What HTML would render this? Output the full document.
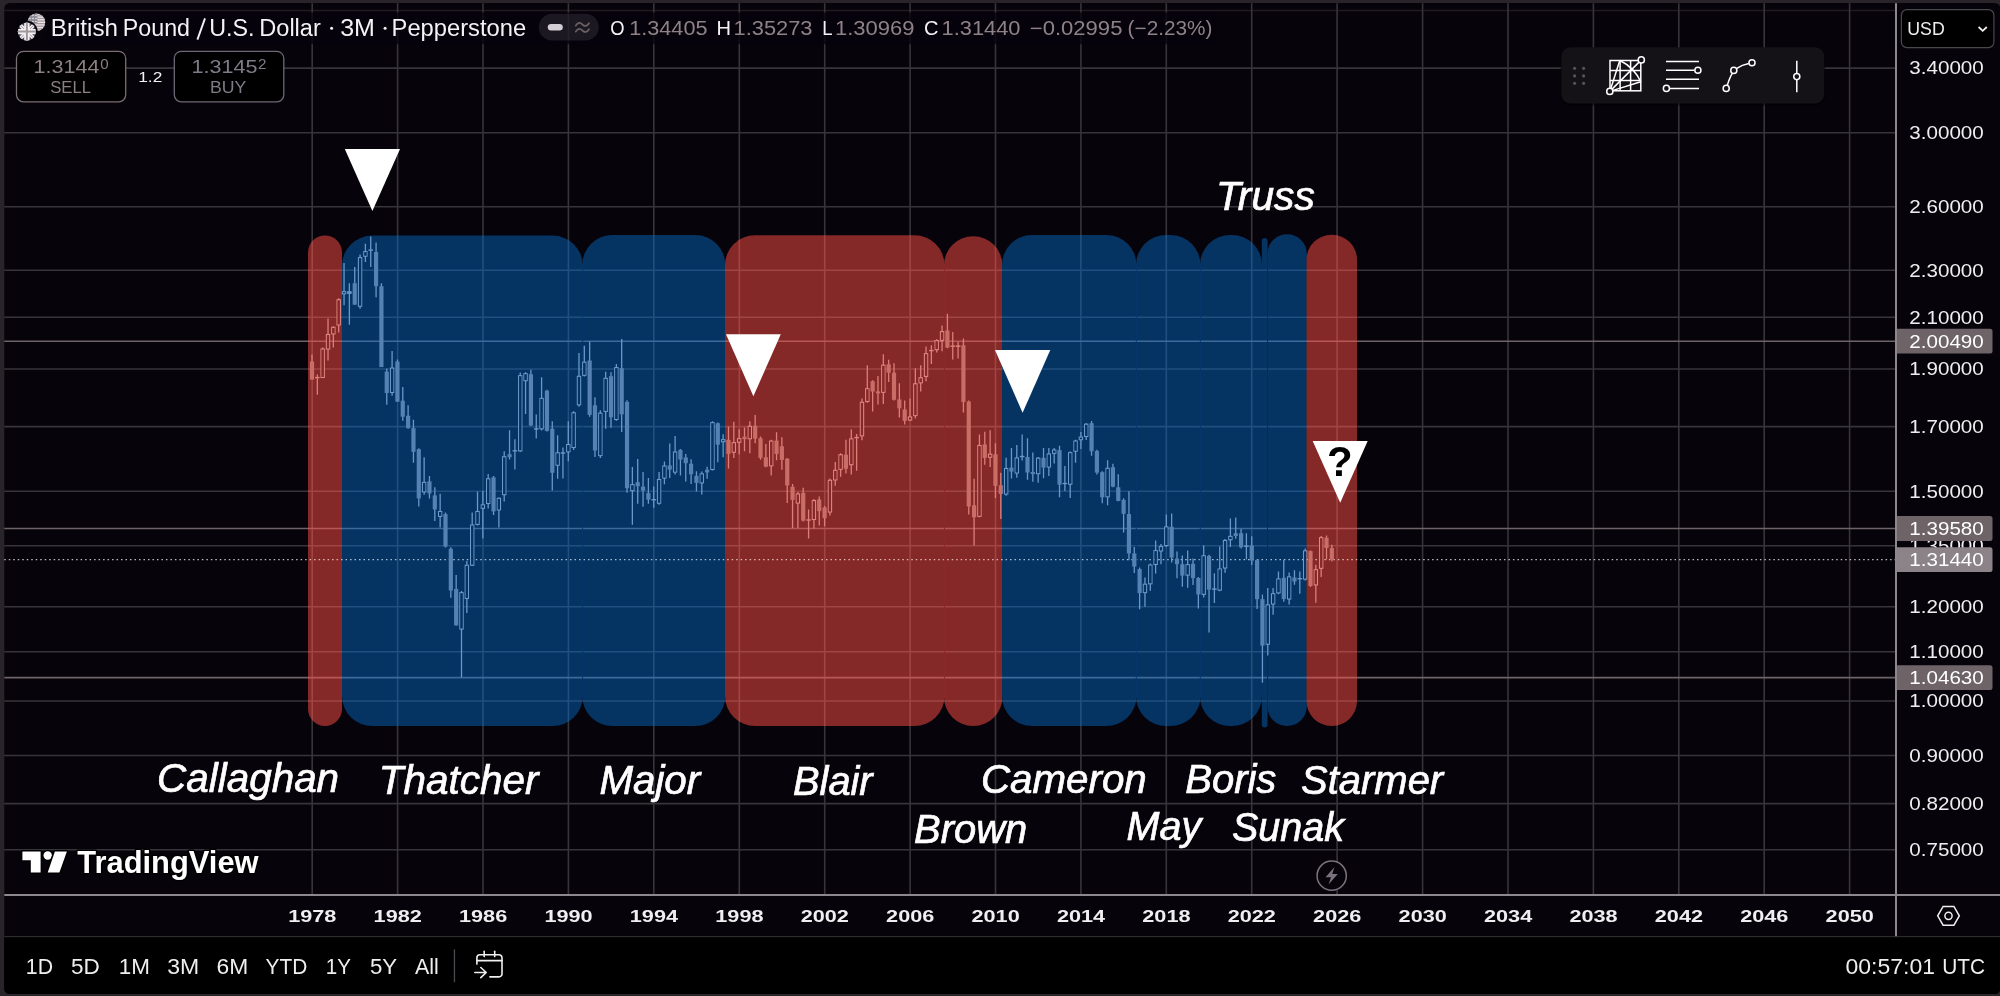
<!DOCTYPE html>
<html><head><meta charset="utf-8"><title>GBPUSD</title>
<style>html,body{margin:0;padding:0;background:#28242a;}body{width:2000px;height:996px;overflow:hidden;font-family:"Liberation Sans",sans-serif;}svg{display:block;will-change:transform;transform:translateZ(0)}</style>
</head><body>
<svg width="2000" height="996" viewBox="0 0 2000 996" font-family="Liberation Sans, sans-serif">
<defs>
<clipPath id="cr"><rect x="308" y="235.5" width="34.0" height="490.5" rx="17" ry="17" /><rect x="725" y="235.3" width="219.5" height="490.7" rx="30" ry="30" /><rect x="944" y="236.3" width="58.4" height="489.7" rx="29" ry="29" /><rect x="1306.5" y="234.8" width="50.5" height="491.2" rx="25" ry="25" /></clipPath>
<clipPath id="cb"><rect x="342" y="235.6" width="240.8" height="490.4" rx="30" ry="30" /><rect x="582.3" y="235" width="143.0" height="491.0" rx="30" ry="30" /><rect x="1002" y="235" width="134.5" height="491.0" rx="30" ry="30" /><rect x="1136" y="235" width="64.5" height="491.0" rx="30" ry="30" /><rect x="1200" y="235" width="62.0" height="491.0" rx="30" ry="30" /><rect x="1261.8" y="238" width="5.8" height="489.5" rx="2.9" ry="2.9" /><rect x="1267.4" y="234.3" width="39.4" height="491.7" rx="19.5" ry="19.5" /></clipPath>
<clipPath id="chart"><rect x="4.3" y="3" width="1890.7" height="891"/></clipPath>
</defs>
<rect width="2000" height="996" fill="#28242a"/>
<path d="M9.8 3H1994.8a5.5 5.5 0 0 1 5.5 5.5V988.5a5.5 5.5 0 0 1 -5.5 5.5H9.8a5.5 5.5 0 0 1 -5.5 -5.5V8.5a5.5 5.5 0 0 1 5.5 -5.5Z" fill="#07030b"/>
<path d="M4.3 937H2000.3V988.5a5.5 5.5 0 0 1 -5.5 5.5H9.8a5.5 5.5 0 0 1 -5.5 -5.5Z" fill="#000"/>
<rect x="4.3" y="936" width="1996" height="1.2" fill="#2e2b30"/>
<g stroke="#37343a" stroke-width="1.6" fill="none"><path d="M4.3 10.5H1895" stroke-opacity="0.5"/><path d="M4.3 68.1H1895"/><path d="M4.3 132.8H1895"/><path d="M4.3 206.8H1895"/><path d="M4.3 270.2H1895"/><path d="M4.3 317.3H1895"/><path d="M4.3 369.0H1895"/><path d="M4.3 426.6H1895"/><path d="M4.3 491.3H1895"/><path d="M4.3 545.8H1895"/><path d="M4.3 606.7H1895"/><path d="M4.3 651.7H1895"/><path d="M4.3 701.0H1895"/><path d="M4.3 755.5H1895"/><path d="M4.3 803.6H1895"/><path d="M4.3 849.8H1895"/><path d="M312.2 3.2V894"/><path d="M397.6 3.2V894"/><path d="M483.0 3.2V894"/><path d="M568.4 3.2V894"/><path d="M653.8 3.2V894"/><path d="M739.3 3.2V894"/><path d="M824.7 3.2V894"/><path d="M910.1 3.2V894"/><path d="M995.5 3.2V894"/><path d="M1080.9 3.2V894"/><path d="M1166.3 3.2V894"/><path d="M1251.7 3.2V894"/><path d="M1337.1 3.2V894"/><path d="M1422.6 3.2V894"/><path d="M1508.0 3.2V894"/><path d="M1593.4 3.2V894"/><path d="M1678.8 3.2V894"/><path d="M1764.2 3.2V894"/><path d="M1849.6 3.2V894"/></g>
<g stroke="#6e6468" stroke-width="1.6"><path d="M4.3 341.2H1895"/><path d="M4.3 528.5H1895"/><path d="M4.3 677.6H1895"/></g>
<path d="M4.3 559.6H1895" stroke="#c0bcc0" stroke-width="1.4" stroke-dasharray="1.5 2.99"/>
<rect x="308" y="235.5" width="34.0" height="490.5" rx="17" ry="17" fill="#852928"/>
<rect x="342" y="235.6" width="240.8" height="490.4" rx="30" ry="30" fill="#053362"/>
<rect x="582.3" y="235" width="143.0" height="491.0" rx="30" ry="30" fill="#053362"/>
<rect x="725" y="235.3" width="219.5" height="490.7" rx="30" ry="30" fill="#852928"/>
<rect x="944" y="236.3" width="58.4" height="489.7" rx="29" ry="29" fill="#852928"/>
<rect x="1002" y="235" width="134.5" height="491.0" rx="30" ry="30" fill="#053362"/>
<rect x="1136" y="235" width="64.5" height="491.0" rx="30" ry="30" fill="#053362"/>
<rect x="1200" y="235" width="62.0" height="491.0" rx="30" ry="30" fill="#053362"/>
<rect x="1261.8" y="238" width="5.8" height="489.5" rx="2.9" ry="2.9" fill="#053362"/>
<rect x="1267.4" y="234.3" width="39.4" height="491.7" rx="19.5" ry="19.5" fill="#053362"/>
<rect x="1306.5" y="234.8" width="50.5" height="491.2" rx="25" ry="25" fill="#852928"/>
<g clip-path="url(#cr)"><g stroke="#9f4543" stroke-width="1.6" fill="none"><path d="M4.3 10.5H1895" stroke-opacity="0.5"/><path d="M4.3 68.1H1895"/><path d="M4.3 132.8H1895"/><path d="M4.3 206.8H1895"/><path d="M4.3 270.2H1895"/><path d="M4.3 317.3H1895"/><path d="M4.3 369.0H1895"/><path d="M4.3 426.6H1895"/><path d="M4.3 491.3H1895"/><path d="M4.3 545.8H1895"/><path d="M4.3 606.7H1895"/><path d="M4.3 651.7H1895"/><path d="M4.3 701.0H1895"/><path d="M4.3 755.5H1895"/><path d="M4.3 803.6H1895"/><path d="M4.3 849.8H1895"/><path d="M312.2 3.2V894"/><path d="M397.6 3.2V894"/><path d="M483.0 3.2V894"/><path d="M568.4 3.2V894"/><path d="M653.8 3.2V894"/><path d="M739.3 3.2V894"/><path d="M824.7 3.2V894"/><path d="M910.1 3.2V894"/><path d="M995.5 3.2V894"/><path d="M1080.9 3.2V894"/><path d="M1166.3 3.2V894"/><path d="M1251.7 3.2V894"/><path d="M1337.1 3.2V894"/><path d="M1422.6 3.2V894"/><path d="M1508.0 3.2V894"/><path d="M1593.4 3.2V894"/><path d="M1678.8 3.2V894"/><path d="M1764.2 3.2V894"/><path d="M1849.6 3.2V894"/></g><g stroke="#b65855" stroke-width="1.6"><path d="M4.3 341.2H1895"/><path d="M4.3 528.5H1895"/><path d="M4.3 677.6H1895"/></g><path d="M4.3 559.6H1895" stroke="#e3b9b6" stroke-width="1.4" stroke-dasharray="1.5 2.99"/></g>
<g clip-path="url(#cb)"><g stroke="#20507f" stroke-width="1.6" fill="none"><path d="M4.3 10.5H1895" stroke-opacity="0.5"/><path d="M4.3 68.1H1895"/><path d="M4.3 132.8H1895"/><path d="M4.3 206.8H1895"/><path d="M4.3 270.2H1895"/><path d="M4.3 317.3H1895"/><path d="M4.3 369.0H1895"/><path d="M4.3 426.6H1895"/><path d="M4.3 491.3H1895"/><path d="M4.3 545.8H1895"/><path d="M4.3 606.7H1895"/><path d="M4.3 651.7H1895"/><path d="M4.3 701.0H1895"/><path d="M4.3 755.5H1895"/><path d="M4.3 803.6H1895"/><path d="M4.3 849.8H1895"/><path d="M312.2 3.2V894"/><path d="M397.6 3.2V894"/><path d="M483.0 3.2V894"/><path d="M568.4 3.2V894"/><path d="M653.8 3.2V894"/><path d="M739.3 3.2V894"/><path d="M824.7 3.2V894"/><path d="M910.1 3.2V894"/><path d="M995.5 3.2V894"/><path d="M1080.9 3.2V894"/><path d="M1166.3 3.2V894"/><path d="M1251.7 3.2V894"/><path d="M1337.1 3.2V894"/><path d="M1422.6 3.2V894"/><path d="M1508.0 3.2V894"/><path d="M1593.4 3.2V894"/><path d="M1678.8 3.2V894"/><path d="M1764.2 3.2V894"/><path d="M1849.6 3.2V894"/></g><g stroke="#3e699b" stroke-width="1.6"><path d="M4.3 341.2H1895"/><path d="M4.3 528.5H1895"/><path d="M4.3 677.6H1895"/></g><path d="M4.3 559.6H1895" stroke="#aac3dc" stroke-width="1.4" stroke-dasharray="1.5 2.99"/></g>
<g stroke-width="1" fill="none"><path d="M582.6 264V698M1136.3 264V698M1200.3 264V698" stroke="#05386e"/><path d="M1267.5 254V706" stroke="#042d58"/><path d="M944.4 264V698" stroke="#8a2b29"/></g>
<g clip-path="url(#cb)"><path d="M312.00 354.5V379.6" stroke="#6998cc" stroke-width="1.3"/><rect x="309.90" y="361.5" width="4.2" height="18.1" fill="#5582b2"/><path d="M317.34 374.6V394.7" stroke="#6998cc" stroke-width="1.3"/><rect x="315.04" y="376.9" width="4.6" height="1.4" fill="#6998cc"/><path d="M322.68 347.5V378.0" stroke="#6998cc" stroke-width="1.3"/><rect x="321.03" y="349.0" width="3.3" height="28.5" fill="none" stroke="#6c9acb" stroke-width="1.1"/><path d="M328.02 318.4V360.5" stroke="#6998cc" stroke-width="1.3"/><rect x="326.37" y="334.5" width="3.3" height="14.5" fill="none" stroke="#6c9acb" stroke-width="1.1"/><path d="M333.36 326.4V347.5" stroke="#6998cc" stroke-width="1.3"/><rect x="331.71" y="327.3" width="3.3" height="6.6" fill="none" stroke="#6c9acb" stroke-width="1.1"/><path d="M338.70 298.3V332.4" stroke="#6998cc" stroke-width="1.3"/><rect x="337.05" y="299.8" width="3.3" height="25.1" fill="none" stroke="#6c9acb" stroke-width="1.1"/><path d="M344.04 263.1V305.3" stroke="#6998cc" stroke-width="1.3"/><rect x="342.39" y="291.7" width="3.3" height="2.1" fill="none" stroke="#6c9acb" stroke-width="1.1"/><path d="M349.38 283.2V324.8" stroke="#6998cc" stroke-width="1.3"/><rect x="347.08" y="291.2" width="4.6" height="2.7" fill="#6998cc"/><path d="M354.72 267.1V304.7" stroke="#6998cc" stroke-width="1.3"/><rect x="352.62" y="283.2" width="4.2" height="21.5" fill="#5582b2"/><path d="M360.06 254.5V308.7" stroke="#6998cc" stroke-width="1.3"/><rect x="358.41" y="257.6" width="3.3" height="48.6" fill="none" stroke="#6c9acb" stroke-width="1.1"/><path d="M365.39 243.7V262.1" stroke="#6998cc" stroke-width="1.3"/><rect x="363.75" y="251.6" width="3.3" height="4.6" fill="none" stroke="#6c9acb" stroke-width="1.1"/><path d="M370.73 236.4V267.1" stroke="#6998cc" stroke-width="1.3"/><rect x="368.43" y="249.4" width="4.6" height="1.4" fill="#6998cc"/><path d="M376.07 242.4V297.3" stroke="#6998cc" stroke-width="1.3"/><rect x="373.97" y="252.1" width="4.2" height="34.1" fill="#5582b2"/><path d="M381.41 283.2V367.1" stroke="#6998cc" stroke-width="1.3"/><rect x="379.31" y="286.2" width="4.2" height="80.9" fill="#5582b2"/><path d="M386.75 368.6V404.7" stroke="#6998cc" stroke-width="1.3"/><rect x="384.65" y="371.6" width="4.2" height="21.4" fill="#5582b2"/><path d="M392.09 351.1V395.7" stroke="#6998cc" stroke-width="1.3"/><rect x="390.44" y="368.1" width="3.3" height="24.4" fill="none" stroke="#6c9acb" stroke-width="1.1"/><path d="M397.43 359.5V402.0" stroke="#6998cc" stroke-width="1.3"/><rect x="395.33" y="361.5" width="4.2" height="40.2" fill="#5582b2"/><path d="M402.77 387.0V420.8" stroke="#6998cc" stroke-width="1.3"/><rect x="400.67" y="400.7" width="4.2" height="16.0" fill="#5582b2"/><path d="M408.11 405.3V428.8" stroke="#6998cc" stroke-width="1.3"/><rect x="406.01" y="415.7" width="4.2" height="12.4" fill="#5582b2"/><path d="M413.45 419.7V462.7" stroke="#6998cc" stroke-width="1.3"/><rect x="411.35" y="428.1" width="4.2" height="23.7" fill="#5582b2"/><path d="M418.79 448.2V506.4" stroke="#6998cc" stroke-width="1.3"/><rect x="416.69" y="449.2" width="4.2" height="49.2" fill="#5582b2"/><path d="M424.13 457.2V494.8" stroke="#6998cc" stroke-width="1.3"/><rect x="422.48" y="482.4" width="3.3" height="9.5" fill="none" stroke="#6c9acb" stroke-width="1.1"/><path d="M429.47 475.9V498.4" stroke="#6998cc" stroke-width="1.3"/><rect x="427.37" y="481.3" width="4.2" height="12.1" fill="#5582b2"/><path d="M434.81 487.3V520.9" stroke="#6998cc" stroke-width="1.3"/><rect x="432.71" y="495.4" width="4.2" height="14.0" fill="#5582b2"/><path d="M440.15 493.8V527.5" stroke="#6998cc" stroke-width="1.3"/><rect x="438.50" y="511.5" width="3.3" height="4.9" fill="none" stroke="#6c9acb" stroke-width="1.1"/><path d="M445.49 512.4V547.6" stroke="#6998cc" stroke-width="1.3"/><rect x="443.39" y="514.1" width="4.2" height="32.5" fill="#5582b2"/><path d="M450.83 547.2V597.8" stroke="#6998cc" stroke-width="1.3"/><rect x="448.73" y="548.8" width="4.2" height="41.7" fill="#5582b2"/><path d="M456.17 575.0V625.4" stroke="#6998cc" stroke-width="1.3"/><rect x="454.07" y="589.0" width="4.2" height="36.4" fill="#5582b2"/><path d="M461.51 591.0V677.3" stroke="#6998cc" stroke-width="1.3"/><rect x="459.86" y="592.7" width="3.3" height="36.4" fill="none" stroke="#6c9acb" stroke-width="1.1"/><path d="M466.85 560.9V613.0" stroke="#6998cc" stroke-width="1.3"/><rect x="465.20" y="565.3" width="3.3" height="33.2" fill="none" stroke="#6c9acb" stroke-width="1.1"/><path d="M472.19 512.4V566.0" stroke="#6998cc" stroke-width="1.3"/><rect x="470.54" y="525.0" width="3.3" height="40.2" fill="none" stroke="#6c9acb" stroke-width="1.1"/><path d="M477.52 491.4V525.5" stroke="#6998cc" stroke-width="1.3"/><rect x="475.87" y="511.5" width="3.3" height="12.9" fill="none" stroke="#6c9acb" stroke-width="1.1"/><path d="M482.86 490.8V538.6" stroke="#6998cc" stroke-width="1.3"/><rect x="481.21" y="504.9" width="3.3" height="3.4" fill="none" stroke="#6c9acb" stroke-width="1.1"/><path d="M488.20 473.9V508.4" stroke="#6998cc" stroke-width="1.3"/><rect x="486.55" y="478.8" width="3.3" height="24.7" fill="none" stroke="#6c9acb" stroke-width="1.1"/><path d="M493.54 475.9V514.9" stroke="#6998cc" stroke-width="1.3"/><rect x="491.44" y="477.3" width="4.2" height="34.1" fill="#5582b2"/><path d="M498.88 497.4V527.5" stroke="#6998cc" stroke-width="1.3"/><rect x="497.23" y="498.3" width="3.3" height="11.6" fill="none" stroke="#6c9acb" stroke-width="1.1"/><path d="M504.22 451.3V501.5" stroke="#6998cc" stroke-width="1.3"/><rect x="502.57" y="456.8" width="3.3" height="37.9" fill="none" stroke="#6c9acb" stroke-width="1.1"/><path d="M509.56 430.2V459.5" stroke="#6998cc" stroke-width="1.3"/><rect x="507.46" y="454.2" width="4.2" height="3.0" fill="#5582b2"/><path d="M514.90 439.3V469.4" stroke="#6998cc" stroke-width="1.3"/><rect x="512.60" y="450.1" width="4.6" height="1.4" fill="#6998cc"/><path d="M520.24 372.6V452.0" stroke="#6998cc" stroke-width="1.3"/><rect x="518.59" y="375.7" width="3.3" height="75.2" fill="none" stroke="#6c9acb" stroke-width="1.1"/><path d="M525.58 372.2V413.9" stroke="#6998cc" stroke-width="1.3"/><rect x="523.93" y="373.7" width="3.3" height="7.0" fill="none" stroke="#6c9acb" stroke-width="1.1"/><path d="M530.92 369.8V426.0" stroke="#6998cc" stroke-width="1.3"/><rect x="528.82" y="374.2" width="4.2" height="51.3" fill="#5582b2"/><path d="M536.26 414.6V438.6" stroke="#6998cc" stroke-width="1.3"/><rect x="533.96" y="428.2" width="4.6" height="1.4" fill="#6998cc"/><path d="M541.60 377.2V430.4" stroke="#6998cc" stroke-width="1.3"/><rect x="539.95" y="398.4" width="3.3" height="30.4" fill="none" stroke="#6c9acb" stroke-width="1.1"/><path d="M546.94 389.8V431.4" stroke="#6998cc" stroke-width="1.3"/><rect x="544.84" y="390.6" width="4.2" height="40.3" fill="#5582b2"/><path d="M552.28 421.2V490.5" stroke="#6998cc" stroke-width="1.3"/><rect x="550.18" y="428.7" width="4.2" height="44.1" fill="#5582b2"/><path d="M557.62 435.2V478.8" stroke="#6998cc" stroke-width="1.3"/><rect x="555.97" y="452.8" width="3.3" height="12.4" fill="none" stroke="#6c9acb" stroke-width="1.1"/><path d="M562.96 447.5V478.4" stroke="#6998cc" stroke-width="1.3"/><rect x="560.66" y="452.3" width="4.6" height="1.4" fill="#6998cc"/><path d="M568.30 421.2V461.3" stroke="#6998cc" stroke-width="1.3"/><rect x="566.65" y="444.5" width="3.3" height="7.3" fill="none" stroke="#6c9acb" stroke-width="1.1"/><path d="M573.64 411.3V450.1" stroke="#6998cc" stroke-width="1.3"/><rect x="571.99" y="412.8" width="3.3" height="34.7" fill="none" stroke="#6c9acb" stroke-width="1.1"/><path d="M578.98 353.1V406.7" stroke="#6998cc" stroke-width="1.3"/><rect x="577.33" y="376.3" width="3.3" height="28.5" fill="none" stroke="#6c9acb" stroke-width="1.1"/><path d="M584.31 345.7V376.6" stroke="#6998cc" stroke-width="1.3"/><rect x="582.66" y="362.2" width="3.3" height="13.1" fill="none" stroke="#6c9acb" stroke-width="1.1"/><path d="M589.65 341.6V416.7" stroke="#6998cc" stroke-width="1.3"/><rect x="587.55" y="360.5" width="4.2" height="54.4" fill="#5582b2"/><path d="M594.99 397.3V456.9" stroke="#6998cc" stroke-width="1.3"/><rect x="592.89" y="405.3" width="4.2" height="45.2" fill="#5582b2"/><path d="M600.33 410.3V458.1" stroke="#6998cc" stroke-width="1.3"/><rect x="598.68" y="413.2" width="3.3" height="42.4" fill="none" stroke="#6c9acb" stroke-width="1.1"/><path d="M605.67 371.8V428.8" stroke="#6998cc" stroke-width="1.3"/><rect x="604.02" y="378.3" width="3.3" height="33.1" fill="none" stroke="#6c9acb" stroke-width="1.1"/><path d="M611.01 372.2V427.8" stroke="#6998cc" stroke-width="1.3"/><rect x="608.91" y="376.2" width="4.2" height="41.1" fill="#5582b2"/><path d="M616.35 364.1V420.8" stroke="#6998cc" stroke-width="1.3"/><rect x="614.70" y="367.6" width="3.3" height="51.9" fill="none" stroke="#6c9acb" stroke-width="1.1"/><path d="M621.69 339.0V432.0" stroke="#6998cc" stroke-width="1.3"/><rect x="619.59" y="368.2" width="4.2" height="46.1" fill="#5582b2"/><path d="M627.03 400.3V492.7" stroke="#6998cc" stroke-width="1.3"/><rect x="624.93" y="401.9" width="4.2" height="86.3" fill="#5582b2"/><path d="M632.37 467.1V524.8" stroke="#6998cc" stroke-width="1.3"/><rect x="630.72" y="484.7" width="3.3" height="6.0" fill="none" stroke="#6c9acb" stroke-width="1.1"/><path d="M637.71 459.1V503.7" stroke="#6998cc" stroke-width="1.3"/><rect x="635.61" y="482.2" width="4.2" height="4.0" fill="#5582b2"/><path d="M643.05 472.0V506.7" stroke="#6998cc" stroke-width="1.3"/><rect x="640.95" y="486.6" width="4.2" height="4.0" fill="#5582b2"/><path d="M648.39 478.0V503.7" stroke="#6998cc" stroke-width="1.3"/><rect x="646.29" y="493.1" width="4.2" height="6.6" fill="#5582b2"/><path d="M653.73 486.6V507.7" stroke="#6998cc" stroke-width="1.3"/><rect x="651.43" y="499.0" width="4.6" height="1.4" fill="#6998cc"/><path d="M659.07 472.0V504.7" stroke="#6998cc" stroke-width="1.3"/><rect x="657.42" y="479.5" width="3.3" height="23.7" fill="none" stroke="#6c9acb" stroke-width="1.1"/><path d="M664.41 461.5V484.2" stroke="#6998cc" stroke-width="1.3"/><rect x="662.76" y="466.0" width="3.3" height="12.1" fill="none" stroke="#6c9acb" stroke-width="1.1"/><path d="M669.75 443.5V478.0" stroke="#6998cc" stroke-width="1.3"/><rect x="667.65" y="465.5" width="4.2" height="4.1" fill="#5582b2"/><path d="M675.09 436.0V474.6" stroke="#6998cc" stroke-width="1.3"/><rect x="673.44" y="452.0" width="3.3" height="20.1" fill="none" stroke="#6c9acb" stroke-width="1.1"/><path d="M680.43 449.0V475.6" stroke="#6998cc" stroke-width="1.3"/><rect x="678.33" y="449.9" width="4.2" height="9.6" fill="#5582b2"/><path d="M685.76 454.1V481.5" stroke="#6998cc" stroke-width="1.3"/><rect x="683.66" y="457.4" width="4.2" height="5.8" fill="#5582b2"/><path d="M691.10 459.2V484.1" stroke="#6998cc" stroke-width="1.3"/><rect x="689.00" y="463.7" width="4.2" height="10.6" fill="#5582b2"/><path d="M696.44 471.3V491.5" stroke="#6998cc" stroke-width="1.3"/><rect x="694.34" y="475.8" width="4.2" height="7.1" fill="#5582b2"/><path d="M701.78 471.4V494.5" stroke="#6998cc" stroke-width="1.3"/><rect x="700.13" y="473.9" width="3.3" height="9.0" fill="none" stroke="#6c9acb" stroke-width="1.1"/><path d="M707.12 466.7V478.8" stroke="#6998cc" stroke-width="1.3"/><rect x="705.02" y="469.8" width="4.2" height="2.6" fill="#5582b2"/><path d="M712.46 421.2V470.4" stroke="#6998cc" stroke-width="1.3"/><rect x="710.81" y="422.7" width="3.3" height="46.8" fill="none" stroke="#6c9acb" stroke-width="1.1"/><path d="M717.80 422.6V462.3" stroke="#6998cc" stroke-width="1.3"/><rect x="715.70" y="423.2" width="4.2" height="21.5" fill="#5582b2"/><path d="M723.14 434.2V457.3" stroke="#6998cc" stroke-width="1.3"/><rect x="721.49" y="439.7" width="3.3" height="2.0" fill="none" stroke="#6c9acb" stroke-width="1.1"/><path d="M728.48 426.6V468.4" stroke="#6998cc" stroke-width="1.3"/><rect x="726.38" y="439.8" width="4.2" height="14.1" fill="#5582b2"/><path d="M733.82 421.8V457.9" stroke="#6998cc" stroke-width="1.3"/><rect x="732.17" y="442.7" width="3.3" height="9.5" fill="none" stroke="#6c9acb" stroke-width="1.1"/><path d="M739.16 429.2V454.3" stroke="#6998cc" stroke-width="1.3"/><rect x="737.51" y="438.7" width="3.3" height="3.5" fill="none" stroke="#6c9acb" stroke-width="1.1"/><path d="M744.50 427.6V451.3" stroke="#6998cc" stroke-width="1.3"/><rect x="742.40" y="436.6" width="4.2" height="2.6" fill="#5582b2"/><path d="M749.84 421.2V453.3" stroke="#6998cc" stroke-width="1.3"/><rect x="748.19" y="426.3" width="3.3" height="12.4" fill="none" stroke="#6c9acb" stroke-width="1.1"/><path d="M755.18 415.1V443.3" stroke="#6998cc" stroke-width="1.3"/><rect x="753.08" y="425.8" width="4.2" height="12.8" fill="#5582b2"/><path d="M760.52 436.6V459.7" stroke="#6998cc" stroke-width="1.3"/><rect x="758.42" y="438.2" width="4.2" height="19.7" fill="#5582b2"/><path d="M765.86 443.9V467.3" stroke="#6998cc" stroke-width="1.3"/><rect x="763.76" y="457.3" width="4.2" height="9.4" fill="#5582b2"/><path d="M771.20 439.8V475.4" stroke="#6998cc" stroke-width="1.3"/><rect x="769.55" y="441.1" width="3.3" height="24.7" fill="none" stroke="#6c9acb" stroke-width="1.1"/><path d="M776.54 432.2V460.3" stroke="#6998cc" stroke-width="1.3"/><rect x="774.44" y="440.6" width="4.2" height="13.3" fill="#5582b2"/><path d="M781.88 437.2V469.8" stroke="#6998cc" stroke-width="1.3"/><rect x="779.78" y="446.3" width="4.2" height="13.6" fill="#5582b2"/><path d="M787.22 457.9V502.9" stroke="#6998cc" stroke-width="1.3"/><rect x="785.12" y="458.7" width="4.2" height="26.7" fill="#5582b2"/><path d="M792.56 484.0V528.0" stroke="#6998cc" stroke-width="1.3"/><rect x="790.46" y="486.8" width="4.2" height="13.1" fill="#5582b2"/><path d="M797.89 492.0V528.0" stroke="#6998cc" stroke-width="1.3"/><rect x="796.24" y="494.0" width="3.3" height="9.0" fill="none" stroke="#6c9acb" stroke-width="1.1"/><path d="M803.23 487.8V521.6" stroke="#6998cc" stroke-width="1.3"/><rect x="801.13" y="492.9" width="4.2" height="27.7" fill="#5582b2"/><path d="M808.57 509.5V538.6" stroke="#6998cc" stroke-width="1.3"/><rect x="806.27" y="519.3" width="4.6" height="1.4" fill="#6998cc"/><path d="M813.91 498.9V528.6" stroke="#6998cc" stroke-width="1.3"/><rect x="812.26" y="500.6" width="3.3" height="18.9" fill="none" stroke="#6c9acb" stroke-width="1.1"/><path d="M819.25 496.5V525.6" stroke="#6998cc" stroke-width="1.3"/><rect x="817.15" y="499.5" width="4.2" height="11.6" fill="#5582b2"/><path d="M824.59 506.1V526.2" stroke="#6998cc" stroke-width="1.3"/><rect x="822.49" y="507.5" width="4.2" height="10.7" fill="#5582b2"/><path d="M829.93 478.4V515.5" stroke="#6998cc" stroke-width="1.3"/><rect x="828.28" y="480.3" width="3.3" height="31.7" fill="none" stroke="#6c9acb" stroke-width="1.1"/><path d="M835.27 461.9V485.8" stroke="#6998cc" stroke-width="1.3"/><rect x="833.62" y="470.3" width="3.3" height="9.6" fill="none" stroke="#6c9acb" stroke-width="1.1"/><path d="M840.61 453.3V476.8" stroke="#6998cc" stroke-width="1.3"/><rect x="838.96" y="454.8" width="3.3" height="14.5" fill="none" stroke="#6c9acb" stroke-width="1.1"/><path d="M845.95 439.8V473.4" stroke="#6998cc" stroke-width="1.3"/><rect x="843.85" y="454.7" width="4.2" height="14.1" fill="#5582b2"/><path d="M851.29 429.3V474.5" stroke="#6998cc" stroke-width="1.3"/><rect x="849.64" y="438.9" width="3.3" height="25.8" fill="none" stroke="#6c9acb" stroke-width="1.1"/><path d="M856.63 434.0V470.7" stroke="#6998cc" stroke-width="1.3"/><rect x="854.33" y="436.9" width="4.6" height="1.4" fill="#6998cc"/><path d="M861.97 398.6V440.2" stroke="#6998cc" stroke-width="1.3"/><rect x="860.32" y="402.3" width="3.3" height="33.5" fill="none" stroke="#6c9acb" stroke-width="1.1"/><path d="M867.31 365.3V402.8" stroke="#6998cc" stroke-width="1.3"/><rect x="865.66" y="388.7" width="3.3" height="12.8" fill="none" stroke="#6c9acb" stroke-width="1.1"/><path d="M872.65 380.3V411.5" stroke="#6998cc" stroke-width="1.3"/><rect x="870.55" y="381.2" width="4.2" height="10.3" fill="#5582b2"/><path d="M877.99 375.9V404.4" stroke="#6998cc" stroke-width="1.3"/><rect x="875.89" y="391.4" width="4.2" height="2.0" fill="#5582b2"/><path d="M883.33 354.2V404.0" stroke="#6998cc" stroke-width="1.3"/><rect x="881.68" y="365.2" width="3.3" height="27.1" fill="none" stroke="#6c9acb" stroke-width="1.1"/><path d="M888.67 359.8V381.9" stroke="#6998cc" stroke-width="1.3"/><rect x="886.57" y="364.3" width="4.2" height="8.4" fill="#5582b2"/><path d="M894.01 363.3V400.4" stroke="#6998cc" stroke-width="1.3"/><rect x="891.91" y="372.7" width="4.2" height="27.1" fill="#5582b2"/><path d="M899.35 383.3V417.5" stroke="#6998cc" stroke-width="1.3"/><rect x="897.25" y="399.4" width="4.2" height="9.0" fill="#5582b2"/><path d="M904.68 400.4V424.5" stroke="#6998cc" stroke-width="1.3"/><rect x="902.58" y="409.4" width="4.2" height="11.5" fill="#5582b2"/><path d="M910.02 398.4V421.1" stroke="#6998cc" stroke-width="1.3"/><rect x="908.37" y="417.0" width="3.3" height="3.0" fill="none" stroke="#6c9acb" stroke-width="1.1"/><path d="M915.36 368.3V418.5" stroke="#6998cc" stroke-width="1.3"/><rect x="913.71" y="383.8" width="3.3" height="31.8" fill="none" stroke="#6c9acb" stroke-width="1.1"/><path d="M920.70 365.3V391.4" stroke="#6998cc" stroke-width="1.3"/><rect x="919.05" y="377.8" width="3.3" height="5.0" fill="none" stroke="#6c9acb" stroke-width="1.1"/><path d="M926.04 346.6V381.3" stroke="#6998cc" stroke-width="1.3"/><rect x="924.39" y="353.7" width="3.3" height="22.7" fill="none" stroke="#6c9acb" stroke-width="1.1"/><path d="M931.38 345.2V363.9" stroke="#6998cc" stroke-width="1.3"/><rect x="929.08" y="349.9" width="4.6" height="1.4" fill="#6998cc"/><path d="M936.72 339.2V352.6" stroke="#6998cc" stroke-width="1.3"/><rect x="935.07" y="340.7" width="3.3" height="9.0" fill="none" stroke="#6c9acb" stroke-width="1.1"/><path d="M942.06 325.5V351.2" stroke="#6998cc" stroke-width="1.3"/><rect x="940.41" y="331.6" width="3.3" height="8.7" fill="none" stroke="#6c9acb" stroke-width="1.1"/><path d="M947.40 313.7V348.2" stroke="#6998cc" stroke-width="1.3"/><rect x="945.30" y="330.5" width="4.2" height="17.1" fill="#5582b2"/><path d="M952.74 332.1V359.6" stroke="#6998cc" stroke-width="1.3"/><rect x="950.44" y="345.5" width="4.6" height="1.4" fill="#6998cc"/><path d="M958.08 341.8V358.6" stroke="#6998cc" stroke-width="1.3"/><rect x="955.78" y="345.4" width="4.6" height="1.6" fill="#6998cc"/><path d="M963.42 338.6V412.4" stroke="#6998cc" stroke-width="1.3"/><rect x="961.32" y="345.2" width="4.2" height="56.8" fill="#5582b2"/><path d="M968.76 400.6V514.4" stroke="#6998cc" stroke-width="1.3"/><rect x="966.66" y="401.6" width="4.2" height="104.9" fill="#5582b2"/><path d="M974.10 478.7V545.4" stroke="#6998cc" stroke-width="1.3"/><rect x="972.00" y="505.2" width="4.2" height="12.1" fill="#5582b2"/><path d="M979.44 434.5V517.3" stroke="#6998cc" stroke-width="1.3"/><rect x="977.79" y="445.5" width="3.3" height="70.8" fill="none" stroke="#6c9acb" stroke-width="1.1"/><path d="M984.78 431.7V464.7" stroke="#6998cc" stroke-width="1.3"/><rect x="982.68" y="444.4" width="4.2" height="13.5" fill="#5582b2"/><path d="M990.12 430.2V466.9" stroke="#6998cc" stroke-width="1.3"/><rect x="988.47" y="454.2" width="3.3" height="3.0" fill="none" stroke="#6c9acb" stroke-width="1.1"/><path d="M995.46 443.2V498.0" stroke="#6998cc" stroke-width="1.3"/><rect x="993.36" y="454.3" width="4.2" height="31.5" fill="#5582b2"/><path d="M1000.80 472.7V518.9" stroke="#6998cc" stroke-width="1.3"/><rect x="998.70" y="485.3" width="4.2" height="8.6" fill="#5582b2"/><path d="M1006.13 457.7V495.7" stroke="#6998cc" stroke-width="1.3"/><rect x="1004.49" y="468.5" width="3.3" height="25.5" fill="none" stroke="#6c9acb" stroke-width="1.1"/><path d="M1011.47 448.0V478.5" stroke="#6998cc" stroke-width="1.3"/><rect x="1009.37" y="467.6" width="4.2" height="4.0" fill="#5582b2"/><path d="M1016.81 445.0V477.8" stroke="#6998cc" stroke-width="1.3"/><rect x="1015.16" y="458.0" width="3.3" height="15.0" fill="none" stroke="#6c9acb" stroke-width="1.1"/><path d="M1022.15 434.5V460.6" stroke="#6998cc" stroke-width="1.3"/><rect x="1019.85" y="455.8" width="4.6" height="1.4" fill="#6998cc"/><path d="M1027.49 438.2V479.7" stroke="#6998cc" stroke-width="1.3"/><rect x="1025.39" y="457.0" width="4.2" height="15.5" fill="#5582b2"/><path d="M1032.83 452.5V481.8" stroke="#6998cc" stroke-width="1.3"/><rect x="1030.73" y="472.0" width="4.2" height="2.1" fill="#5582b2"/><path d="M1038.17 457.0V482.7" stroke="#6998cc" stroke-width="1.3"/><rect x="1036.52" y="458.2" width="3.3" height="15.5" fill="none" stroke="#6c9acb" stroke-width="1.1"/><path d="M1043.51 448.0V478.3" stroke="#6998cc" stroke-width="1.3"/><rect x="1041.41" y="457.9" width="4.2" height="9.7" fill="#5582b2"/><path d="M1048.85 448.0V476.0" stroke="#6998cc" stroke-width="1.3"/><rect x="1047.20" y="454.0" width="3.3" height="13.0" fill="none" stroke="#6c9acb" stroke-width="1.1"/><path d="M1054.19 447.9V463.5" stroke="#6998cc" stroke-width="1.3"/><rect x="1052.54" y="450.0" width="3.3" height="3.3" fill="none" stroke="#6c9acb" stroke-width="1.1"/><path d="M1059.53 445.8V497.2" stroke="#6998cc" stroke-width="1.3"/><rect x="1057.43" y="450.1" width="4.2" height="34.6" fill="#5582b2"/><path d="M1064.87 465.9V491.1" stroke="#6998cc" stroke-width="1.3"/><rect x="1062.57" y="482.8" width="4.6" height="1.4" fill="#6998cc"/><path d="M1070.21 451.4V498.0" stroke="#6998cc" stroke-width="1.3"/><rect x="1068.56" y="452.7" width="3.3" height="31.5" fill="none" stroke="#6c9acb" stroke-width="1.1"/><path d="M1075.55 439.8V462.7" stroke="#6998cc" stroke-width="1.3"/><rect x="1073.90" y="441.0" width="3.3" height="10.2" fill="none" stroke="#6c9acb" stroke-width="1.1"/><path d="M1080.89 432.1V449.0" stroke="#6998cc" stroke-width="1.3"/><rect x="1079.24" y="437.1" width="3.3" height="2.6" fill="none" stroke="#6c9acb" stroke-width="1.1"/><path d="M1086.23 423.0V440.0" stroke="#6998cc" stroke-width="1.3"/><rect x="1084.58" y="424.2" width="3.3" height="12.3" fill="none" stroke="#6c9acb" stroke-width="1.1"/><path d="M1091.57 420.9V455.8" stroke="#6998cc" stroke-width="1.3"/><rect x="1089.47" y="423.2" width="4.2" height="28.0" fill="#5582b2"/><path d="M1096.91 449.7V474.5" stroke="#6998cc" stroke-width="1.3"/><rect x="1094.81" y="450.9" width="4.2" height="21.7" fill="#5582b2"/><path d="M1102.25 471.2V503.3" stroke="#6998cc" stroke-width="1.3"/><rect x="1100.15" y="472.2" width="4.2" height="25.1" fill="#5582b2"/><path d="M1107.59 460.2V505.3" stroke="#6998cc" stroke-width="1.3"/><rect x="1105.94" y="468.3" width="3.3" height="28.5" fill="none" stroke="#6c9acb" stroke-width="1.1"/><path d="M1112.93 463.8V487.3" stroke="#6998cc" stroke-width="1.3"/><rect x="1110.83" y="467.2" width="4.2" height="19.5" fill="#5582b2"/><path d="M1118.26 474.2V501.3" stroke="#6998cc" stroke-width="1.3"/><rect x="1116.16" y="487.3" width="4.2" height="13.6" fill="#5582b2"/><path d="M1123.60 498.3V532.4" stroke="#6998cc" stroke-width="1.3"/><rect x="1121.50" y="499.9" width="4.2" height="13.9" fill="#5582b2"/><path d="M1128.94 491.3V560.2" stroke="#6998cc" stroke-width="1.3"/><rect x="1126.84" y="514.0" width="4.2" height="39.5" fill="#5582b2"/><path d="M1134.28 546.9V573.0" stroke="#6998cc" stroke-width="1.3"/><rect x="1132.18" y="553.5" width="4.2" height="13.1" fill="#5582b2"/><path d="M1139.62 567.6V609.2" stroke="#6998cc" stroke-width="1.3"/><rect x="1137.52" y="569.0" width="4.2" height="24.1" fill="#5582b2"/><path d="M1144.96 577.6V606.7" stroke="#6998cc" stroke-width="1.3"/><rect x="1143.31" y="584.2" width="3.3" height="8.4" fill="none" stroke="#6c9acb" stroke-width="1.1"/><path d="M1150.30 563.6V590.7" stroke="#6998cc" stroke-width="1.3"/><rect x="1148.65" y="565.1" width="3.3" height="18.7" fill="none" stroke="#6c9acb" stroke-width="1.1"/><path d="M1155.64 540.5V573.6" stroke="#6998cc" stroke-width="1.3"/><rect x="1153.99" y="550.6" width="3.3" height="13.9" fill="none" stroke="#6c9acb" stroke-width="1.1"/><path d="M1160.98 544.1V564.2" stroke="#6998cc" stroke-width="1.3"/><rect x="1159.33" y="546.6" width="3.3" height="4.4" fill="none" stroke="#6c9acb" stroke-width="1.1"/><path d="M1166.32 514.4V546.9" stroke="#6998cc" stroke-width="1.3"/><rect x="1164.67" y="526.9" width="3.3" height="18.7" fill="none" stroke="#6c9acb" stroke-width="1.1"/><path d="M1171.66 513.4V562.6" stroke="#6998cc" stroke-width="1.3"/><rect x="1169.56" y="526.8" width="4.2" height="30.8" fill="#5582b2"/><path d="M1177.00 551.5V578.2" stroke="#6998cc" stroke-width="1.3"/><rect x="1174.90" y="558.6" width="4.2" height="5.6" fill="#5582b2"/><path d="M1182.34 555.5V586.7" stroke="#6998cc" stroke-width="1.3"/><rect x="1180.24" y="564.2" width="4.2" height="11.4" fill="#5582b2"/><path d="M1187.68 550.5V587.7" stroke="#6998cc" stroke-width="1.3"/><rect x="1186.03" y="564.7" width="3.3" height="10.4" fill="none" stroke="#6c9acb" stroke-width="1.1"/><path d="M1193.02 558.4V584.9" stroke="#6998cc" stroke-width="1.3"/><rect x="1190.92" y="563.8" width="4.2" height="14.2" fill="#5582b2"/><path d="M1198.36 577.0V608.5" stroke="#6998cc" stroke-width="1.3"/><rect x="1196.26" y="578.0" width="4.2" height="16.4" fill="#5582b2"/><path d="M1203.70 545.4V597.4" stroke="#6998cc" stroke-width="1.3"/><rect x="1202.05" y="555.8" width="3.3" height="38.5" fill="none" stroke="#6c9acb" stroke-width="1.1"/><path d="M1209.04 554.8V632.4" stroke="#6998cc" stroke-width="1.3"/><rect x="1206.94" y="556.0" width="4.2" height="33.6" fill="#5582b2"/><path d="M1214.38 573.3V602.9" stroke="#6998cc" stroke-width="1.3"/><rect x="1212.08" y="588.4" width="4.6" height="1.4" fill="#6998cc"/><path d="M1219.72 546.6V591.2" stroke="#6998cc" stroke-width="1.3"/><rect x="1218.07" y="569.0" width="3.3" height="21.1" fill="none" stroke="#6c9acb" stroke-width="1.1"/><path d="M1225.05 538.9V572.7" stroke="#6998cc" stroke-width="1.3"/><rect x="1223.40" y="540.5" width="3.3" height="27.5" fill="none" stroke="#6c9acb" stroke-width="1.1"/><path d="M1230.39 518.4V547.0" stroke="#6998cc" stroke-width="1.3"/><rect x="1228.74" y="536.4" width="3.3" height="3.3" fill="none" stroke="#6c9acb" stroke-width="1.1"/><path d="M1235.73 517.4V538.8" stroke="#6998cc" stroke-width="1.3"/><rect x="1233.63" y="533.2" width="4.2" height="2.8" fill="#5582b2"/><path d="M1241.07 529.0V548.6" stroke="#6998cc" stroke-width="1.3"/><rect x="1238.97" y="533.2" width="4.2" height="14.1" fill="#5582b2"/><path d="M1246.41 533.2V559.5" stroke="#6998cc" stroke-width="1.3"/><rect x="1244.11" y="545.5" width="4.6" height="1.4" fill="#6998cc"/><path d="M1251.75 536.2V564.9" stroke="#6998cc" stroke-width="1.3"/><rect x="1249.65" y="545.4" width="4.2" height="15.0" fill="#5582b2"/><path d="M1257.09 559.2V608.9" stroke="#6998cc" stroke-width="1.3"/><rect x="1254.99" y="560.1" width="4.2" height="39.1" fill="#5582b2"/><path d="M1262.43 594.6V682.7" stroke="#6998cc" stroke-width="1.3"/><rect x="1260.33" y="599.2" width="4.2" height="46.4" fill="#5582b2"/><path d="M1267.77 588.0V655.6" stroke="#6998cc" stroke-width="1.3"/><rect x="1266.12" y="604.9" width="3.3" height="39.3" fill="none" stroke="#6c9acb" stroke-width="1.1"/><path d="M1273.11 588.0V614.7" stroke="#6998cc" stroke-width="1.3"/><rect x="1271.46" y="593.7" width="3.3" height="10.3" fill="none" stroke="#6c9acb" stroke-width="1.1"/><path d="M1278.45 571.5V594.2" stroke="#6998cc" stroke-width="1.3"/><rect x="1276.80" y="579.0" width="3.3" height="13.9" fill="none" stroke="#6c9acb" stroke-width="1.1"/><path d="M1283.79 559.8V601.7" stroke="#6998cc" stroke-width="1.3"/><rect x="1281.69" y="577.8" width="4.2" height="21.2" fill="#5582b2"/><path d="M1289.13 572.4V604.6" stroke="#6998cc" stroke-width="1.3"/><rect x="1287.48" y="576.9" width="3.3" height="22.1" fill="none" stroke="#6c9acb" stroke-width="1.1"/><path d="M1294.47 570.2V584.7" stroke="#6998cc" stroke-width="1.3"/><rect x="1292.37" y="577.5" width="4.2" height="4.0" fill="#5582b2"/><path d="M1299.81 571.5V593.7" stroke="#6998cc" stroke-width="1.3"/><rect x="1297.51" y="578.0" width="4.6" height="1.4" fill="#6998cc"/><path d="M1305.15 548.6V580.5" stroke="#6998cc" stroke-width="1.3"/><rect x="1303.50" y="550.9" width="3.3" height="28.2" fill="none" stroke="#6c9acb" stroke-width="1.1"/><path d="M1310.49 550.4V586.9" stroke="#6998cc" stroke-width="1.3"/><rect x="1308.39" y="551.1" width="4.2" height="34.9" fill="#5582b2"/><path d="M1315.83 564.8V602.8" stroke="#6998cc" stroke-width="1.3"/><rect x="1314.18" y="569.7" width="3.3" height="15.2" fill="none" stroke="#6c9acb" stroke-width="1.1"/><path d="M1321.17 535.9V576.9" stroke="#6998cc" stroke-width="1.3"/><rect x="1319.52" y="537.7" width="3.3" height="30.6" fill="none" stroke="#6c9acb" stroke-width="1.1"/><path d="M1326.51 535.4V559.4" stroke="#6998cc" stroke-width="1.3"/><rect x="1324.41" y="537.7" width="4.2" height="10.3" fill="#5582b2"/><path d="M1331.84 544.7V561.5" stroke="#6998cc" stroke-width="1.3"/><rect x="1329.74" y="548.1" width="4.2" height="11.5" fill="#5582b2"/><rect x="321.58" y="349.6" width="2.2" height="27.4" fill="#053362"/><rect x="326.92" y="335.1" width="2.2" height="13.4" fill="#053362"/><rect x="332.26" y="327.9" width="2.2" height="5.5" fill="#053362"/><rect x="337.60" y="300.4" width="2.2" height="24.0" fill="#053362"/><rect x="342.94" y="292.2" width="2.2" height="1.0" fill="#053362"/><rect x="358.96" y="258.2" width="2.2" height="47.5" fill="#053362"/><rect x="364.29" y="252.2" width="2.2" height="3.5" fill="#053362"/><rect x="390.99" y="368.7" width="2.2" height="23.3" fill="#053362"/><rect x="423.03" y="482.9" width="2.2" height="8.4" fill="#053362"/><rect x="439.05" y="512.0" width="2.2" height="3.8" fill="#053362"/><rect x="460.41" y="593.2" width="2.2" height="35.3" fill="#053362"/><rect x="465.75" y="565.8" width="2.2" height="32.1" fill="#053362"/><rect x="471.08" y="525.5" width="2.2" height="39.1" fill="#053362"/><rect x="476.42" y="512.0" width="2.2" height="11.8" fill="#053362"/><rect x="481.76" y="505.4" width="2.2" height="2.3" fill="#053362"/><rect x="487.10" y="479.4" width="2.2" height="23.6" fill="#053362"/><rect x="497.78" y="498.9" width="2.2" height="10.5" fill="#053362"/><rect x="503.12" y="457.4" width="2.2" height="36.8" fill="#053362"/><rect x="519.14" y="376.2" width="2.2" height="74.1" fill="#053362"/><rect x="524.48" y="374.2" width="2.2" height="5.9" fill="#053362"/><rect x="540.50" y="398.9" width="2.2" height="29.3" fill="#053362"/><rect x="556.52" y="453.4" width="2.2" height="11.3" fill="#053362"/><rect x="567.20" y="445.1" width="2.2" height="6.2" fill="#053362"/><rect x="572.54" y="413.4" width="2.2" height="33.6" fill="#053362"/><rect x="577.88" y="376.9" width="2.2" height="27.4" fill="#053362"/><rect x="583.21" y="362.8" width="2.2" height="12.0" fill="#053362"/><rect x="599.23" y="413.8" width="2.2" height="41.3" fill="#053362"/><rect x="604.57" y="378.9" width="2.2" height="32.0" fill="#053362"/><rect x="615.25" y="368.2" width="2.2" height="50.8" fill="#053362"/><rect x="631.27" y="485.2" width="2.2" height="4.9" fill="#053362"/><rect x="657.97" y="480.1" width="2.2" height="22.6" fill="#053362"/><rect x="663.31" y="466.6" width="2.2" height="11.0" fill="#053362"/><rect x="673.99" y="452.6" width="2.2" height="19.0" fill="#053362"/><rect x="700.68" y="474.4" width="2.2" height="7.9" fill="#053362"/><rect x="711.36" y="423.2" width="2.2" height="45.7" fill="#053362"/><rect x="722.04" y="440.2" width="2.2" height="0.9" fill="#053362"/><rect x="732.72" y="443.2" width="2.2" height="8.4" fill="#053362"/><rect x="738.06" y="439.2" width="2.2" height="2.4" fill="#053362"/><rect x="748.74" y="426.9" width="2.2" height="11.3" fill="#053362"/><rect x="770.10" y="441.7" width="2.2" height="23.6" fill="#053362"/><rect x="796.79" y="494.6" width="2.2" height="7.9" fill="#053362"/><rect x="812.81" y="501.2" width="2.2" height="17.8" fill="#053362"/><rect x="828.83" y="480.9" width="2.2" height="30.6" fill="#053362"/><rect x="834.17" y="470.9" width="2.2" height="8.5" fill="#053362"/><rect x="839.51" y="455.4" width="2.2" height="13.4" fill="#053362"/><rect x="850.19" y="439.4" width="2.2" height="24.7" fill="#053362"/><rect x="860.87" y="402.9" width="2.2" height="32.4" fill="#053362"/><rect x="866.21" y="389.2" width="2.2" height="11.7" fill="#053362"/><rect x="882.23" y="365.8" width="2.2" height="26.0" fill="#053362"/><rect x="908.92" y="417.6" width="2.2" height="1.9" fill="#053362"/><rect x="914.26" y="384.4" width="2.2" height="30.7" fill="#053362"/><rect x="919.60" y="378.4" width="2.2" height="3.9" fill="#053362"/><rect x="924.94" y="354.2" width="2.2" height="21.6" fill="#053362"/><rect x="935.62" y="341.2" width="2.2" height="7.9" fill="#053362"/><rect x="940.96" y="332.2" width="2.2" height="7.6" fill="#053362"/><rect x="978.34" y="446.1" width="2.2" height="69.7" fill="#053362"/><rect x="989.02" y="454.8" width="2.2" height="1.9" fill="#053362"/><rect x="1005.03" y="469.1" width="2.2" height="24.4" fill="#053362"/><rect x="1015.71" y="458.6" width="2.2" height="13.9" fill="#053362"/><rect x="1037.07" y="458.8" width="2.2" height="14.4" fill="#053362"/><rect x="1047.75" y="454.6" width="2.2" height="11.9" fill="#053362"/><rect x="1053.09" y="450.6" width="2.2" height="2.2" fill="#053362"/><rect x="1069.11" y="453.2" width="2.2" height="30.4" fill="#053362"/><rect x="1074.45" y="441.6" width="2.2" height="9.1" fill="#053362"/><rect x="1079.79" y="437.7" width="2.2" height="1.5" fill="#053362"/><rect x="1085.13" y="424.8" width="2.2" height="11.2" fill="#053362"/><rect x="1106.49" y="468.9" width="2.2" height="27.4" fill="#053362"/><rect x="1143.86" y="584.8" width="2.2" height="7.3" fill="#053362"/><rect x="1149.20" y="565.6" width="2.2" height="17.6" fill="#053362"/><rect x="1154.54" y="551.1" width="2.2" height="12.8" fill="#053362"/><rect x="1159.88" y="547.1" width="2.2" height="3.3" fill="#053362"/><rect x="1165.22" y="527.4" width="2.2" height="17.6" fill="#053362"/><rect x="1186.58" y="565.2" width="2.2" height="9.3" fill="#053362"/><rect x="1202.60" y="556.3" width="2.2" height="37.4" fill="#053362"/><rect x="1218.62" y="569.5" width="2.2" height="20.0" fill="#053362"/><rect x="1223.95" y="541.0" width="2.2" height="26.4" fill="#053362"/><rect x="1229.29" y="536.9" width="2.2" height="2.2" fill="#053362"/><rect x="1266.67" y="605.4" width="2.2" height="38.2" fill="#053362"/><rect x="1272.01" y="594.2" width="2.2" height="9.2" fill="#053362"/><rect x="1277.35" y="579.5" width="2.2" height="12.8" fill="#053362"/><rect x="1288.03" y="577.4" width="2.2" height="21.0" fill="#053362"/><rect x="1304.05" y="551.4" width="2.2" height="27.1" fill="#053362"/><rect x="1314.73" y="570.2" width="2.2" height="14.1" fill="#053362"/><rect x="1320.07" y="538.2" width="2.2" height="29.5" fill="#053362"/></g>
<g clip-path="url(#cr)"><path d="M312.00 354.5V379.6" stroke="#dd7e79" stroke-width="1.3"/><rect x="309.90" y="361.5" width="4.2" height="18.1" fill="#c96d67"/><path d="M317.34 374.6V394.7" stroke="#dd7e79" stroke-width="1.3"/><rect x="315.04" y="376.9" width="4.6" height="1.4" fill="#dd7e79"/><path d="M322.68 347.5V378.0" stroke="#dd7e79" stroke-width="1.3"/><rect x="321.03" y="349.0" width="3.3" height="28.5" fill="none" stroke="#e18782" stroke-width="1.1"/><path d="M328.02 318.4V360.5" stroke="#dd7e79" stroke-width="1.3"/><rect x="326.37" y="334.5" width="3.3" height="14.5" fill="none" stroke="#e18782" stroke-width="1.1"/><path d="M333.36 326.4V347.5" stroke="#dd7e79" stroke-width="1.3"/><rect x="331.71" y="327.3" width="3.3" height="6.6" fill="none" stroke="#e18782" stroke-width="1.1"/><path d="M338.70 298.3V332.4" stroke="#dd7e79" stroke-width="1.3"/><rect x="337.05" y="299.8" width="3.3" height="25.1" fill="none" stroke="#e18782" stroke-width="1.1"/><path d="M344.04 263.1V305.3" stroke="#dd7e79" stroke-width="1.3"/><rect x="342.39" y="291.7" width="3.3" height="2.1" fill="none" stroke="#e18782" stroke-width="1.1"/><path d="M349.38 283.2V324.8" stroke="#dd7e79" stroke-width="1.3"/><rect x="347.08" y="291.2" width="4.6" height="2.7" fill="#dd7e79"/><path d="M354.72 267.1V304.7" stroke="#dd7e79" stroke-width="1.3"/><rect x="352.62" y="283.2" width="4.2" height="21.5" fill="#c96d67"/><path d="M360.06 254.5V308.7" stroke="#dd7e79" stroke-width="1.3"/><rect x="358.41" y="257.6" width="3.3" height="48.6" fill="none" stroke="#e18782" stroke-width="1.1"/><path d="M365.39 243.7V262.1" stroke="#dd7e79" stroke-width="1.3"/><rect x="363.75" y="251.6" width="3.3" height="4.6" fill="none" stroke="#e18782" stroke-width="1.1"/><path d="M370.73 236.4V267.1" stroke="#dd7e79" stroke-width="1.3"/><rect x="368.43" y="249.4" width="4.6" height="1.4" fill="#dd7e79"/><path d="M376.07 242.4V297.3" stroke="#dd7e79" stroke-width="1.3"/><rect x="373.97" y="252.1" width="4.2" height="34.1" fill="#c96d67"/><path d="M381.41 283.2V367.1" stroke="#dd7e79" stroke-width="1.3"/><rect x="379.31" y="286.2" width="4.2" height="80.9" fill="#c96d67"/><path d="M386.75 368.6V404.7" stroke="#dd7e79" stroke-width="1.3"/><rect x="384.65" y="371.6" width="4.2" height="21.4" fill="#c96d67"/><path d="M392.09 351.1V395.7" stroke="#dd7e79" stroke-width="1.3"/><rect x="390.44" y="368.1" width="3.3" height="24.4" fill="none" stroke="#e18782" stroke-width="1.1"/><path d="M397.43 359.5V402.0" stroke="#dd7e79" stroke-width="1.3"/><rect x="395.33" y="361.5" width="4.2" height="40.2" fill="#c96d67"/><path d="M402.77 387.0V420.8" stroke="#dd7e79" stroke-width="1.3"/><rect x="400.67" y="400.7" width="4.2" height="16.0" fill="#c96d67"/><path d="M408.11 405.3V428.8" stroke="#dd7e79" stroke-width="1.3"/><rect x="406.01" y="415.7" width="4.2" height="12.4" fill="#c96d67"/><path d="M413.45 419.7V462.7" stroke="#dd7e79" stroke-width="1.3"/><rect x="411.35" y="428.1" width="4.2" height="23.7" fill="#c96d67"/><path d="M418.79 448.2V506.4" stroke="#dd7e79" stroke-width="1.3"/><rect x="416.69" y="449.2" width="4.2" height="49.2" fill="#c96d67"/><path d="M424.13 457.2V494.8" stroke="#dd7e79" stroke-width="1.3"/><rect x="422.48" y="482.4" width="3.3" height="9.5" fill="none" stroke="#e18782" stroke-width="1.1"/><path d="M429.47 475.9V498.4" stroke="#dd7e79" stroke-width="1.3"/><rect x="427.37" y="481.3" width="4.2" height="12.1" fill="#c96d67"/><path d="M434.81 487.3V520.9" stroke="#dd7e79" stroke-width="1.3"/><rect x="432.71" y="495.4" width="4.2" height="14.0" fill="#c96d67"/><path d="M440.15 493.8V527.5" stroke="#dd7e79" stroke-width="1.3"/><rect x="438.50" y="511.5" width="3.3" height="4.9" fill="none" stroke="#e18782" stroke-width="1.1"/><path d="M445.49 512.4V547.6" stroke="#dd7e79" stroke-width="1.3"/><rect x="443.39" y="514.1" width="4.2" height="32.5" fill="#c96d67"/><path d="M450.83 547.2V597.8" stroke="#dd7e79" stroke-width="1.3"/><rect x="448.73" y="548.8" width="4.2" height="41.7" fill="#c96d67"/><path d="M456.17 575.0V625.4" stroke="#dd7e79" stroke-width="1.3"/><rect x="454.07" y="589.0" width="4.2" height="36.4" fill="#c96d67"/><path d="M461.51 591.0V677.3" stroke="#dd7e79" stroke-width="1.3"/><rect x="459.86" y="592.7" width="3.3" height="36.4" fill="none" stroke="#e18782" stroke-width="1.1"/><path d="M466.85 560.9V613.0" stroke="#dd7e79" stroke-width="1.3"/><rect x="465.20" y="565.3" width="3.3" height="33.2" fill="none" stroke="#e18782" stroke-width="1.1"/><path d="M472.19 512.4V566.0" stroke="#dd7e79" stroke-width="1.3"/><rect x="470.54" y="525.0" width="3.3" height="40.2" fill="none" stroke="#e18782" stroke-width="1.1"/><path d="M477.52 491.4V525.5" stroke="#dd7e79" stroke-width="1.3"/><rect x="475.87" y="511.5" width="3.3" height="12.9" fill="none" stroke="#e18782" stroke-width="1.1"/><path d="M482.86 490.8V538.6" stroke="#dd7e79" stroke-width="1.3"/><rect x="481.21" y="504.9" width="3.3" height="3.4" fill="none" stroke="#e18782" stroke-width="1.1"/><path d="M488.20 473.9V508.4" stroke="#dd7e79" stroke-width="1.3"/><rect x="486.55" y="478.8" width="3.3" height="24.7" fill="none" stroke="#e18782" stroke-width="1.1"/><path d="M493.54 475.9V514.9" stroke="#dd7e79" stroke-width="1.3"/><rect x="491.44" y="477.3" width="4.2" height="34.1" fill="#c96d67"/><path d="M498.88 497.4V527.5" stroke="#dd7e79" stroke-width="1.3"/><rect x="497.23" y="498.3" width="3.3" height="11.6" fill="none" stroke="#e18782" stroke-width="1.1"/><path d="M504.22 451.3V501.5" stroke="#dd7e79" stroke-width="1.3"/><rect x="502.57" y="456.8" width="3.3" height="37.9" fill="none" stroke="#e18782" stroke-width="1.1"/><path d="M509.56 430.2V459.5" stroke="#dd7e79" stroke-width="1.3"/><rect x="507.46" y="454.2" width="4.2" height="3.0" fill="#c96d67"/><path d="M514.90 439.3V469.4" stroke="#dd7e79" stroke-width="1.3"/><rect x="512.60" y="450.1" width="4.6" height="1.4" fill="#dd7e79"/><path d="M520.24 372.6V452.0" stroke="#dd7e79" stroke-width="1.3"/><rect x="518.59" y="375.7" width="3.3" height="75.2" fill="none" stroke="#e18782" stroke-width="1.1"/><path d="M525.58 372.2V413.9" stroke="#dd7e79" stroke-width="1.3"/><rect x="523.93" y="373.7" width="3.3" height="7.0" fill="none" stroke="#e18782" stroke-width="1.1"/><path d="M530.92 369.8V426.0" stroke="#dd7e79" stroke-width="1.3"/><rect x="528.82" y="374.2" width="4.2" height="51.3" fill="#c96d67"/><path d="M536.26 414.6V438.6" stroke="#dd7e79" stroke-width="1.3"/><rect x="533.96" y="428.2" width="4.6" height="1.4" fill="#dd7e79"/><path d="M541.60 377.2V430.4" stroke="#dd7e79" stroke-width="1.3"/><rect x="539.95" y="398.4" width="3.3" height="30.4" fill="none" stroke="#e18782" stroke-width="1.1"/><path d="M546.94 389.8V431.4" stroke="#dd7e79" stroke-width="1.3"/><rect x="544.84" y="390.6" width="4.2" height="40.3" fill="#c96d67"/><path d="M552.28 421.2V490.5" stroke="#dd7e79" stroke-width="1.3"/><rect x="550.18" y="428.7" width="4.2" height="44.1" fill="#c96d67"/><path d="M557.62 435.2V478.8" stroke="#dd7e79" stroke-width="1.3"/><rect x="555.97" y="452.8" width="3.3" height="12.4" fill="none" stroke="#e18782" stroke-width="1.1"/><path d="M562.96 447.5V478.4" stroke="#dd7e79" stroke-width="1.3"/><rect x="560.66" y="452.3" width="4.6" height="1.4" fill="#dd7e79"/><path d="M568.30 421.2V461.3" stroke="#dd7e79" stroke-width="1.3"/><rect x="566.65" y="444.5" width="3.3" height="7.3" fill="none" stroke="#e18782" stroke-width="1.1"/><path d="M573.64 411.3V450.1" stroke="#dd7e79" stroke-width="1.3"/><rect x="571.99" y="412.8" width="3.3" height="34.7" fill="none" stroke="#e18782" stroke-width="1.1"/><path d="M578.98 353.1V406.7" stroke="#dd7e79" stroke-width="1.3"/><rect x="577.33" y="376.3" width="3.3" height="28.5" fill="none" stroke="#e18782" stroke-width="1.1"/><path d="M584.31 345.7V376.6" stroke="#dd7e79" stroke-width="1.3"/><rect x="582.66" y="362.2" width="3.3" height="13.1" fill="none" stroke="#e18782" stroke-width="1.1"/><path d="M589.65 341.6V416.7" stroke="#dd7e79" stroke-width="1.3"/><rect x="587.55" y="360.5" width="4.2" height="54.4" fill="#c96d67"/><path d="M594.99 397.3V456.9" stroke="#dd7e79" stroke-width="1.3"/><rect x="592.89" y="405.3" width="4.2" height="45.2" fill="#c96d67"/><path d="M600.33 410.3V458.1" stroke="#dd7e79" stroke-width="1.3"/><rect x="598.68" y="413.2" width="3.3" height="42.4" fill="none" stroke="#e18782" stroke-width="1.1"/><path d="M605.67 371.8V428.8" stroke="#dd7e79" stroke-width="1.3"/><rect x="604.02" y="378.3" width="3.3" height="33.1" fill="none" stroke="#e18782" stroke-width="1.1"/><path d="M611.01 372.2V427.8" stroke="#dd7e79" stroke-width="1.3"/><rect x="608.91" y="376.2" width="4.2" height="41.1" fill="#c96d67"/><path d="M616.35 364.1V420.8" stroke="#dd7e79" stroke-width="1.3"/><rect x="614.70" y="367.6" width="3.3" height="51.9" fill="none" stroke="#e18782" stroke-width="1.1"/><path d="M621.69 339.0V432.0" stroke="#dd7e79" stroke-width="1.3"/><rect x="619.59" y="368.2" width="4.2" height="46.1" fill="#c96d67"/><path d="M627.03 400.3V492.7" stroke="#dd7e79" stroke-width="1.3"/><rect x="624.93" y="401.9" width="4.2" height="86.3" fill="#c96d67"/><path d="M632.37 467.1V524.8" stroke="#dd7e79" stroke-width="1.3"/><rect x="630.72" y="484.7" width="3.3" height="6.0" fill="none" stroke="#e18782" stroke-width="1.1"/><path d="M637.71 459.1V503.7" stroke="#dd7e79" stroke-width="1.3"/><rect x="635.61" y="482.2" width="4.2" height="4.0" fill="#c96d67"/><path d="M643.05 472.0V506.7" stroke="#dd7e79" stroke-width="1.3"/><rect x="640.95" y="486.6" width="4.2" height="4.0" fill="#c96d67"/><path d="M648.39 478.0V503.7" stroke="#dd7e79" stroke-width="1.3"/><rect x="646.29" y="493.1" width="4.2" height="6.6" fill="#c96d67"/><path d="M653.73 486.6V507.7" stroke="#dd7e79" stroke-width="1.3"/><rect x="651.43" y="499.0" width="4.6" height="1.4" fill="#dd7e79"/><path d="M659.07 472.0V504.7" stroke="#dd7e79" stroke-width="1.3"/><rect x="657.42" y="479.5" width="3.3" height="23.7" fill="none" stroke="#e18782" stroke-width="1.1"/><path d="M664.41 461.5V484.2" stroke="#dd7e79" stroke-width="1.3"/><rect x="662.76" y="466.0" width="3.3" height="12.1" fill="none" stroke="#e18782" stroke-width="1.1"/><path d="M669.75 443.5V478.0" stroke="#dd7e79" stroke-width="1.3"/><rect x="667.65" y="465.5" width="4.2" height="4.1" fill="#c96d67"/><path d="M675.09 436.0V474.6" stroke="#dd7e79" stroke-width="1.3"/><rect x="673.44" y="452.0" width="3.3" height="20.1" fill="none" stroke="#e18782" stroke-width="1.1"/><path d="M680.43 449.0V475.6" stroke="#dd7e79" stroke-width="1.3"/><rect x="678.33" y="449.9" width="4.2" height="9.6" fill="#c96d67"/><path d="M685.76 454.1V481.5" stroke="#dd7e79" stroke-width="1.3"/><rect x="683.66" y="457.4" width="4.2" height="5.8" fill="#c96d67"/><path d="M691.10 459.2V484.1" stroke="#dd7e79" stroke-width="1.3"/><rect x="689.00" y="463.7" width="4.2" height="10.6" fill="#c96d67"/><path d="M696.44 471.3V491.5" stroke="#dd7e79" stroke-width="1.3"/><rect x="694.34" y="475.8" width="4.2" height="7.1" fill="#c96d67"/><path d="M701.78 471.4V494.5" stroke="#dd7e79" stroke-width="1.3"/><rect x="700.13" y="473.9" width="3.3" height="9.0" fill="none" stroke="#e18782" stroke-width="1.1"/><path d="M707.12 466.7V478.8" stroke="#dd7e79" stroke-width="1.3"/><rect x="705.02" y="469.8" width="4.2" height="2.6" fill="#c96d67"/><path d="M712.46 421.2V470.4" stroke="#dd7e79" stroke-width="1.3"/><rect x="710.81" y="422.7" width="3.3" height="46.8" fill="none" stroke="#e18782" stroke-width="1.1"/><path d="M717.80 422.6V462.3" stroke="#dd7e79" stroke-width="1.3"/><rect x="715.70" y="423.2" width="4.2" height="21.5" fill="#c96d67"/><path d="M723.14 434.2V457.3" stroke="#dd7e79" stroke-width="1.3"/><rect x="721.49" y="439.7" width="3.3" height="2.0" fill="none" stroke="#e18782" stroke-width="1.1"/><path d="M728.48 426.6V468.4" stroke="#dd7e79" stroke-width="1.3"/><rect x="726.38" y="439.8" width="4.2" height="14.1" fill="#c96d67"/><path d="M733.82 421.8V457.9" stroke="#dd7e79" stroke-width="1.3"/><rect x="732.17" y="442.7" width="3.3" height="9.5" fill="none" stroke="#e18782" stroke-width="1.1"/><path d="M739.16 429.2V454.3" stroke="#dd7e79" stroke-width="1.3"/><rect x="737.51" y="438.7" width="3.3" height="3.5" fill="none" stroke="#e18782" stroke-width="1.1"/><path d="M744.50 427.6V451.3" stroke="#dd7e79" stroke-width="1.3"/><rect x="742.40" y="436.6" width="4.2" height="2.6" fill="#c96d67"/><path d="M749.84 421.2V453.3" stroke="#dd7e79" stroke-width="1.3"/><rect x="748.19" y="426.3" width="3.3" height="12.4" fill="none" stroke="#e18782" stroke-width="1.1"/><path d="M755.18 415.1V443.3" stroke="#dd7e79" stroke-width="1.3"/><rect x="753.08" y="425.8" width="4.2" height="12.8" fill="#c96d67"/><path d="M760.52 436.6V459.7" stroke="#dd7e79" stroke-width="1.3"/><rect x="758.42" y="438.2" width="4.2" height="19.7" fill="#c96d67"/><path d="M765.86 443.9V467.3" stroke="#dd7e79" stroke-width="1.3"/><rect x="763.76" y="457.3" width="4.2" height="9.4" fill="#c96d67"/><path d="M771.20 439.8V475.4" stroke="#dd7e79" stroke-width="1.3"/><rect x="769.55" y="441.1" width="3.3" height="24.7" fill="none" stroke="#e18782" stroke-width="1.1"/><path d="M776.54 432.2V460.3" stroke="#dd7e79" stroke-width="1.3"/><rect x="774.44" y="440.6" width="4.2" height="13.3" fill="#c96d67"/><path d="M781.88 437.2V469.8" stroke="#dd7e79" stroke-width="1.3"/><rect x="779.78" y="446.3" width="4.2" height="13.6" fill="#c96d67"/><path d="M787.22 457.9V502.9" stroke="#dd7e79" stroke-width="1.3"/><rect x="785.12" y="458.7" width="4.2" height="26.7" fill="#c96d67"/><path d="M792.56 484.0V528.0" stroke="#dd7e79" stroke-width="1.3"/><rect x="790.46" y="486.8" width="4.2" height="13.1" fill="#c96d67"/><path d="M797.89 492.0V528.0" stroke="#dd7e79" stroke-width="1.3"/><rect x="796.24" y="494.0" width="3.3" height="9.0" fill="none" stroke="#e18782" stroke-width="1.1"/><path d="M803.23 487.8V521.6" stroke="#dd7e79" stroke-width="1.3"/><rect x="801.13" y="492.9" width="4.2" height="27.7" fill="#c96d67"/><path d="M808.57 509.5V538.6" stroke="#dd7e79" stroke-width="1.3"/><rect x="806.27" y="519.3" width="4.6" height="1.4" fill="#dd7e79"/><path d="M813.91 498.9V528.6" stroke="#dd7e79" stroke-width="1.3"/><rect x="812.26" y="500.6" width="3.3" height="18.9" fill="none" stroke="#e18782" stroke-width="1.1"/><path d="M819.25 496.5V525.6" stroke="#dd7e79" stroke-width="1.3"/><rect x="817.15" y="499.5" width="4.2" height="11.6" fill="#c96d67"/><path d="M824.59 506.1V526.2" stroke="#dd7e79" stroke-width="1.3"/><rect x="822.49" y="507.5" width="4.2" height="10.7" fill="#c96d67"/><path d="M829.93 478.4V515.5" stroke="#dd7e79" stroke-width="1.3"/><rect x="828.28" y="480.3" width="3.3" height="31.7" fill="none" stroke="#e18782" stroke-width="1.1"/><path d="M835.27 461.9V485.8" stroke="#dd7e79" stroke-width="1.3"/><rect x="833.62" y="470.3" width="3.3" height="9.6" fill="none" stroke="#e18782" stroke-width="1.1"/><path d="M840.61 453.3V476.8" stroke="#dd7e79" stroke-width="1.3"/><rect x="838.96" y="454.8" width="3.3" height="14.5" fill="none" stroke="#e18782" stroke-width="1.1"/><path d="M845.95 439.8V473.4" stroke="#dd7e79" stroke-width="1.3"/><rect x="843.85" y="454.7" width="4.2" height="14.1" fill="#c96d67"/><path d="M851.29 429.3V474.5" stroke="#dd7e79" stroke-width="1.3"/><rect x="849.64" y="438.9" width="3.3" height="25.8" fill="none" stroke="#e18782" stroke-width="1.1"/><path d="M856.63 434.0V470.7" stroke="#dd7e79" stroke-width="1.3"/><rect x="854.33" y="436.9" width="4.6" height="1.4" fill="#dd7e79"/><path d="M861.97 398.6V440.2" stroke="#dd7e79" stroke-width="1.3"/><rect x="860.32" y="402.3" width="3.3" height="33.5" fill="none" stroke="#e18782" stroke-width="1.1"/><path d="M867.31 365.3V402.8" stroke="#dd7e79" stroke-width="1.3"/><rect x="865.66" y="388.7" width="3.3" height="12.8" fill="none" stroke="#e18782" stroke-width="1.1"/><path d="M872.65 380.3V411.5" stroke="#dd7e79" stroke-width="1.3"/><rect x="870.55" y="381.2" width="4.2" height="10.3" fill="#c96d67"/><path d="M877.99 375.9V404.4" stroke="#dd7e79" stroke-width="1.3"/><rect x="875.89" y="391.4" width="4.2" height="2.0" fill="#c96d67"/><path d="M883.33 354.2V404.0" stroke="#dd7e79" stroke-width="1.3"/><rect x="881.68" y="365.2" width="3.3" height="27.1" fill="none" stroke="#e18782" stroke-width="1.1"/><path d="M888.67 359.8V381.9" stroke="#dd7e79" stroke-width="1.3"/><rect x="886.57" y="364.3" width="4.2" height="8.4" fill="#c96d67"/><path d="M894.01 363.3V400.4" stroke="#dd7e79" stroke-width="1.3"/><rect x="891.91" y="372.7" width="4.2" height="27.1" fill="#c96d67"/><path d="M899.35 383.3V417.5" stroke="#dd7e79" stroke-width="1.3"/><rect x="897.25" y="399.4" width="4.2" height="9.0" fill="#c96d67"/><path d="M904.68 400.4V424.5" stroke="#dd7e79" stroke-width="1.3"/><rect x="902.58" y="409.4" width="4.2" height="11.5" fill="#c96d67"/><path d="M910.02 398.4V421.1" stroke="#dd7e79" stroke-width="1.3"/><rect x="908.37" y="417.0" width="3.3" height="3.0" fill="none" stroke="#e18782" stroke-width="1.1"/><path d="M915.36 368.3V418.5" stroke="#dd7e79" stroke-width="1.3"/><rect x="913.71" y="383.8" width="3.3" height="31.8" fill="none" stroke="#e18782" stroke-width="1.1"/><path d="M920.70 365.3V391.4" stroke="#dd7e79" stroke-width="1.3"/><rect x="919.05" y="377.8" width="3.3" height="5.0" fill="none" stroke="#e18782" stroke-width="1.1"/><path d="M926.04 346.6V381.3" stroke="#dd7e79" stroke-width="1.3"/><rect x="924.39" y="353.7" width="3.3" height="22.7" fill="none" stroke="#e18782" stroke-width="1.1"/><path d="M931.38 345.2V363.9" stroke="#dd7e79" stroke-width="1.3"/><rect x="929.08" y="349.9" width="4.6" height="1.4" fill="#dd7e79"/><path d="M936.72 339.2V352.6" stroke="#dd7e79" stroke-width="1.3"/><rect x="935.07" y="340.7" width="3.3" height="9.0" fill="none" stroke="#e18782" stroke-width="1.1"/><path d="M942.06 325.5V351.2" stroke="#dd7e79" stroke-width="1.3"/><rect x="940.41" y="331.6" width="3.3" height="8.7" fill="none" stroke="#e18782" stroke-width="1.1"/><path d="M947.40 313.7V348.2" stroke="#dd7e79" stroke-width="1.3"/><rect x="945.30" y="330.5" width="4.2" height="17.1" fill="#c96d67"/><path d="M952.74 332.1V359.6" stroke="#dd7e79" stroke-width="1.3"/><rect x="950.44" y="345.5" width="4.6" height="1.4" fill="#dd7e79"/><path d="M958.08 341.8V358.6" stroke="#dd7e79" stroke-width="1.3"/><rect x="955.78" y="345.4" width="4.6" height="1.6" fill="#dd7e79"/><path d="M963.42 338.6V412.4" stroke="#dd7e79" stroke-width="1.3"/><rect x="961.32" y="345.2" width="4.2" height="56.8" fill="#c96d67"/><path d="M968.76 400.6V514.4" stroke="#dd7e79" stroke-width="1.3"/><rect x="966.66" y="401.6" width="4.2" height="104.9" fill="#c96d67"/><path d="M974.10 478.7V545.4" stroke="#dd7e79" stroke-width="1.3"/><rect x="972.00" y="505.2" width="4.2" height="12.1" fill="#c96d67"/><path d="M979.44 434.5V517.3" stroke="#dd7e79" stroke-width="1.3"/><rect x="977.79" y="445.5" width="3.3" height="70.8" fill="none" stroke="#e18782" stroke-width="1.1"/><path d="M984.78 431.7V464.7" stroke="#dd7e79" stroke-width="1.3"/><rect x="982.68" y="444.4" width="4.2" height="13.5" fill="#c96d67"/><path d="M990.12 430.2V466.9" stroke="#dd7e79" stroke-width="1.3"/><rect x="988.47" y="454.2" width="3.3" height="3.0" fill="none" stroke="#e18782" stroke-width="1.1"/><path d="M995.46 443.2V498.0" stroke="#dd7e79" stroke-width="1.3"/><rect x="993.36" y="454.3" width="4.2" height="31.5" fill="#c96d67"/><path d="M1000.80 472.7V518.9" stroke="#dd7e79" stroke-width="1.3"/><rect x="998.70" y="485.3" width="4.2" height="8.6" fill="#c96d67"/><path d="M1006.13 457.7V495.7" stroke="#dd7e79" stroke-width="1.3"/><rect x="1004.49" y="468.5" width="3.3" height="25.5" fill="none" stroke="#e18782" stroke-width="1.1"/><path d="M1011.47 448.0V478.5" stroke="#dd7e79" stroke-width="1.3"/><rect x="1009.37" y="467.6" width="4.2" height="4.0" fill="#c96d67"/><path d="M1016.81 445.0V477.8" stroke="#dd7e79" stroke-width="1.3"/><rect x="1015.16" y="458.0" width="3.3" height="15.0" fill="none" stroke="#e18782" stroke-width="1.1"/><path d="M1022.15 434.5V460.6" stroke="#dd7e79" stroke-width="1.3"/><rect x="1019.85" y="455.8" width="4.6" height="1.4" fill="#dd7e79"/><path d="M1027.49 438.2V479.7" stroke="#dd7e79" stroke-width="1.3"/><rect x="1025.39" y="457.0" width="4.2" height="15.5" fill="#c96d67"/><path d="M1032.83 452.5V481.8" stroke="#dd7e79" stroke-width="1.3"/><rect x="1030.73" y="472.0" width="4.2" height="2.1" fill="#c96d67"/><path d="M1038.17 457.0V482.7" stroke="#dd7e79" stroke-width="1.3"/><rect x="1036.52" y="458.2" width="3.3" height="15.5" fill="none" stroke="#e18782" stroke-width="1.1"/><path d="M1043.51 448.0V478.3" stroke="#dd7e79" stroke-width="1.3"/><rect x="1041.41" y="457.9" width="4.2" height="9.7" fill="#c96d67"/><path d="M1048.85 448.0V476.0" stroke="#dd7e79" stroke-width="1.3"/><rect x="1047.20" y="454.0" width="3.3" height="13.0" fill="none" stroke="#e18782" stroke-width="1.1"/><path d="M1054.19 447.9V463.5" stroke="#dd7e79" stroke-width="1.3"/><rect x="1052.54" y="450.0" width="3.3" height="3.3" fill="none" stroke="#e18782" stroke-width="1.1"/><path d="M1059.53 445.8V497.2" stroke="#dd7e79" stroke-width="1.3"/><rect x="1057.43" y="450.1" width="4.2" height="34.6" fill="#c96d67"/><path d="M1064.87 465.9V491.1" stroke="#dd7e79" stroke-width="1.3"/><rect x="1062.57" y="482.8" width="4.6" height="1.4" fill="#dd7e79"/><path d="M1070.21 451.4V498.0" stroke="#dd7e79" stroke-width="1.3"/><rect x="1068.56" y="452.7" width="3.3" height="31.5" fill="none" stroke="#e18782" stroke-width="1.1"/><path d="M1075.55 439.8V462.7" stroke="#dd7e79" stroke-width="1.3"/><rect x="1073.90" y="441.0" width="3.3" height="10.2" fill="none" stroke="#e18782" stroke-width="1.1"/><path d="M1080.89 432.1V449.0" stroke="#dd7e79" stroke-width="1.3"/><rect x="1079.24" y="437.1" width="3.3" height="2.6" fill="none" stroke="#e18782" stroke-width="1.1"/><path d="M1086.23 423.0V440.0" stroke="#dd7e79" stroke-width="1.3"/><rect x="1084.58" y="424.2" width="3.3" height="12.3" fill="none" stroke="#e18782" stroke-width="1.1"/><path d="M1091.57 420.9V455.8" stroke="#dd7e79" stroke-width="1.3"/><rect x="1089.47" y="423.2" width="4.2" height="28.0" fill="#c96d67"/><path d="M1096.91 449.7V474.5" stroke="#dd7e79" stroke-width="1.3"/><rect x="1094.81" y="450.9" width="4.2" height="21.7" fill="#c96d67"/><path d="M1102.25 471.2V503.3" stroke="#dd7e79" stroke-width="1.3"/><rect x="1100.15" y="472.2" width="4.2" height="25.1" fill="#c96d67"/><path d="M1107.59 460.2V505.3" stroke="#dd7e79" stroke-width="1.3"/><rect x="1105.94" y="468.3" width="3.3" height="28.5" fill="none" stroke="#e18782" stroke-width="1.1"/><path d="M1112.93 463.8V487.3" stroke="#dd7e79" stroke-width="1.3"/><rect x="1110.83" y="467.2" width="4.2" height="19.5" fill="#c96d67"/><path d="M1118.26 474.2V501.3" stroke="#dd7e79" stroke-width="1.3"/><rect x="1116.16" y="487.3" width="4.2" height="13.6" fill="#c96d67"/><path d="M1123.60 498.3V532.4" stroke="#dd7e79" stroke-width="1.3"/><rect x="1121.50" y="499.9" width="4.2" height="13.9" fill="#c96d67"/><path d="M1128.94 491.3V560.2" stroke="#dd7e79" stroke-width="1.3"/><rect x="1126.84" y="514.0" width="4.2" height="39.5" fill="#c96d67"/><path d="M1134.28 546.9V573.0" stroke="#dd7e79" stroke-width="1.3"/><rect x="1132.18" y="553.5" width="4.2" height="13.1" fill="#c96d67"/><path d="M1139.62 567.6V609.2" stroke="#dd7e79" stroke-width="1.3"/><rect x="1137.52" y="569.0" width="4.2" height="24.1" fill="#c96d67"/><path d="M1144.96 577.6V606.7" stroke="#dd7e79" stroke-width="1.3"/><rect x="1143.31" y="584.2" width="3.3" height="8.4" fill="none" stroke="#e18782" stroke-width="1.1"/><path d="M1150.30 563.6V590.7" stroke="#dd7e79" stroke-width="1.3"/><rect x="1148.65" y="565.1" width="3.3" height="18.7" fill="none" stroke="#e18782" stroke-width="1.1"/><path d="M1155.64 540.5V573.6" stroke="#dd7e79" stroke-width="1.3"/><rect x="1153.99" y="550.6" width="3.3" height="13.9" fill="none" stroke="#e18782" stroke-width="1.1"/><path d="M1160.98 544.1V564.2" stroke="#dd7e79" stroke-width="1.3"/><rect x="1159.33" y="546.6" width="3.3" height="4.4" fill="none" stroke="#e18782" stroke-width="1.1"/><path d="M1166.32 514.4V546.9" stroke="#dd7e79" stroke-width="1.3"/><rect x="1164.67" y="526.9" width="3.3" height="18.7" fill="none" stroke="#e18782" stroke-width="1.1"/><path d="M1171.66 513.4V562.6" stroke="#dd7e79" stroke-width="1.3"/><rect x="1169.56" y="526.8" width="4.2" height="30.8" fill="#c96d67"/><path d="M1177.00 551.5V578.2" stroke="#dd7e79" stroke-width="1.3"/><rect x="1174.90" y="558.6" width="4.2" height="5.6" fill="#c96d67"/><path d="M1182.34 555.5V586.7" stroke="#dd7e79" stroke-width="1.3"/><rect x="1180.24" y="564.2" width="4.2" height="11.4" fill="#c96d67"/><path d="M1187.68 550.5V587.7" stroke="#dd7e79" stroke-width="1.3"/><rect x="1186.03" y="564.7" width="3.3" height="10.4" fill="none" stroke="#e18782" stroke-width="1.1"/><path d="M1193.02 558.4V584.9" stroke="#dd7e79" stroke-width="1.3"/><rect x="1190.92" y="563.8" width="4.2" height="14.2" fill="#c96d67"/><path d="M1198.36 577.0V608.5" stroke="#dd7e79" stroke-width="1.3"/><rect x="1196.26" y="578.0" width="4.2" height="16.4" fill="#c96d67"/><path d="M1203.70 545.4V597.4" stroke="#dd7e79" stroke-width="1.3"/><rect x="1202.05" y="555.8" width="3.3" height="38.5" fill="none" stroke="#e18782" stroke-width="1.1"/><path d="M1209.04 554.8V632.4" stroke="#dd7e79" stroke-width="1.3"/><rect x="1206.94" y="556.0" width="4.2" height="33.6" fill="#c96d67"/><path d="M1214.38 573.3V602.9" stroke="#dd7e79" stroke-width="1.3"/><rect x="1212.08" y="588.4" width="4.6" height="1.4" fill="#dd7e79"/><path d="M1219.72 546.6V591.2" stroke="#dd7e79" stroke-width="1.3"/><rect x="1218.07" y="569.0" width="3.3" height="21.1" fill="none" stroke="#e18782" stroke-width="1.1"/><path d="M1225.05 538.9V572.7" stroke="#dd7e79" stroke-width="1.3"/><rect x="1223.40" y="540.5" width="3.3" height="27.5" fill="none" stroke="#e18782" stroke-width="1.1"/><path d="M1230.39 518.4V547.0" stroke="#dd7e79" stroke-width="1.3"/><rect x="1228.74" y="536.4" width="3.3" height="3.3" fill="none" stroke="#e18782" stroke-width="1.1"/><path d="M1235.73 517.4V538.8" stroke="#dd7e79" stroke-width="1.3"/><rect x="1233.63" y="533.2" width="4.2" height="2.8" fill="#c96d67"/><path d="M1241.07 529.0V548.6" stroke="#dd7e79" stroke-width="1.3"/><rect x="1238.97" y="533.2" width="4.2" height="14.1" fill="#c96d67"/><path d="M1246.41 533.2V559.5" stroke="#dd7e79" stroke-width="1.3"/><rect x="1244.11" y="545.5" width="4.6" height="1.4" fill="#dd7e79"/><path d="M1251.75 536.2V564.9" stroke="#dd7e79" stroke-width="1.3"/><rect x="1249.65" y="545.4" width="4.2" height="15.0" fill="#c96d67"/><path d="M1257.09 559.2V608.9" stroke="#dd7e79" stroke-width="1.3"/><rect x="1254.99" y="560.1" width="4.2" height="39.1" fill="#c96d67"/><path d="M1262.43 594.6V682.7" stroke="#dd7e79" stroke-width="1.3"/><rect x="1260.33" y="599.2" width="4.2" height="46.4" fill="#c96d67"/><path d="M1267.77 588.0V655.6" stroke="#dd7e79" stroke-width="1.3"/><rect x="1266.12" y="604.9" width="3.3" height="39.3" fill="none" stroke="#e18782" stroke-width="1.1"/><path d="M1273.11 588.0V614.7" stroke="#dd7e79" stroke-width="1.3"/><rect x="1271.46" y="593.7" width="3.3" height="10.3" fill="none" stroke="#e18782" stroke-width="1.1"/><path d="M1278.45 571.5V594.2" stroke="#dd7e79" stroke-width="1.3"/><rect x="1276.80" y="579.0" width="3.3" height="13.9" fill="none" stroke="#e18782" stroke-width="1.1"/><path d="M1283.79 559.8V601.7" stroke="#dd7e79" stroke-width="1.3"/><rect x="1281.69" y="577.8" width="4.2" height="21.2" fill="#c96d67"/><path d="M1289.13 572.4V604.6" stroke="#dd7e79" stroke-width="1.3"/><rect x="1287.48" y="576.9" width="3.3" height="22.1" fill="none" stroke="#e18782" stroke-width="1.1"/><path d="M1294.47 570.2V584.7" stroke="#dd7e79" stroke-width="1.3"/><rect x="1292.37" y="577.5" width="4.2" height="4.0" fill="#c96d67"/><path d="M1299.81 571.5V593.7" stroke="#dd7e79" stroke-width="1.3"/><rect x="1297.51" y="578.0" width="4.6" height="1.4" fill="#dd7e79"/><path d="M1305.15 548.6V580.5" stroke="#dd7e79" stroke-width="1.3"/><rect x="1303.50" y="550.9" width="3.3" height="28.2" fill="none" stroke="#e18782" stroke-width="1.1"/><path d="M1310.49 550.4V586.9" stroke="#dd7e79" stroke-width="1.3"/><rect x="1308.39" y="551.1" width="4.2" height="34.9" fill="#c96d67"/><path d="M1315.83 564.8V602.8" stroke="#dd7e79" stroke-width="1.3"/><rect x="1314.18" y="569.7" width="3.3" height="15.2" fill="none" stroke="#e18782" stroke-width="1.1"/><path d="M1321.17 535.9V576.9" stroke="#dd7e79" stroke-width="1.3"/><rect x="1319.52" y="537.7" width="3.3" height="30.6" fill="none" stroke="#e18782" stroke-width="1.1"/><path d="M1326.51 535.4V559.4" stroke="#dd7e79" stroke-width="1.3"/><rect x="1324.41" y="537.7" width="4.2" height="10.3" fill="#c96d67"/><path d="M1331.84 544.7V561.5" stroke="#dd7e79" stroke-width="1.3"/><rect x="1329.74" y="548.1" width="4.2" height="11.5" fill="#c96d67"/><rect x="321.58" y="349.6" width="2.2" height="27.4" fill="#852928"/><rect x="326.92" y="335.1" width="2.2" height="13.4" fill="#852928"/><rect x="332.26" y="327.9" width="2.2" height="5.5" fill="#852928"/><rect x="337.60" y="300.4" width="2.2" height="24.0" fill="#852928"/><rect x="342.94" y="292.2" width="2.2" height="1.0" fill="#852928"/><rect x="358.96" y="258.2" width="2.2" height="47.5" fill="#852928"/><rect x="364.29" y="252.2" width="2.2" height="3.5" fill="#852928"/><rect x="390.99" y="368.7" width="2.2" height="23.3" fill="#852928"/><rect x="423.03" y="482.9" width="2.2" height="8.4" fill="#852928"/><rect x="439.05" y="512.0" width="2.2" height="3.8" fill="#852928"/><rect x="460.41" y="593.2" width="2.2" height="35.3" fill="#852928"/><rect x="465.75" y="565.8" width="2.2" height="32.1" fill="#852928"/><rect x="471.08" y="525.5" width="2.2" height="39.1" fill="#852928"/><rect x="476.42" y="512.0" width="2.2" height="11.8" fill="#852928"/><rect x="481.76" y="505.4" width="2.2" height="2.3" fill="#852928"/><rect x="487.10" y="479.4" width="2.2" height="23.6" fill="#852928"/><rect x="497.78" y="498.9" width="2.2" height="10.5" fill="#852928"/><rect x="503.12" y="457.4" width="2.2" height="36.8" fill="#852928"/><rect x="519.14" y="376.2" width="2.2" height="74.1" fill="#852928"/><rect x="524.48" y="374.2" width="2.2" height="5.9" fill="#852928"/><rect x="540.50" y="398.9" width="2.2" height="29.3" fill="#852928"/><rect x="556.52" y="453.4" width="2.2" height="11.3" fill="#852928"/><rect x="567.20" y="445.1" width="2.2" height="6.2" fill="#852928"/><rect x="572.54" y="413.4" width="2.2" height="33.6" fill="#852928"/><rect x="577.88" y="376.9" width="2.2" height="27.4" fill="#852928"/><rect x="583.21" y="362.8" width="2.2" height="12.0" fill="#852928"/><rect x="599.23" y="413.8" width="2.2" height="41.3" fill="#852928"/><rect x="604.57" y="378.9" width="2.2" height="32.0" fill="#852928"/><rect x="615.25" y="368.2" width="2.2" height="50.8" fill="#852928"/><rect x="631.27" y="485.2" width="2.2" height="4.9" fill="#852928"/><rect x="657.97" y="480.1" width="2.2" height="22.6" fill="#852928"/><rect x="663.31" y="466.6" width="2.2" height="11.0" fill="#852928"/><rect x="673.99" y="452.6" width="2.2" height="19.0" fill="#852928"/><rect x="700.68" y="474.4" width="2.2" height="7.9" fill="#852928"/><rect x="711.36" y="423.2" width="2.2" height="45.7" fill="#852928"/><rect x="722.04" y="440.2" width="2.2" height="0.9" fill="#852928"/><rect x="732.72" y="443.2" width="2.2" height="8.4" fill="#852928"/><rect x="738.06" y="439.2" width="2.2" height="2.4" fill="#852928"/><rect x="748.74" y="426.9" width="2.2" height="11.3" fill="#852928"/><rect x="770.10" y="441.7" width="2.2" height="23.6" fill="#852928"/><rect x="796.79" y="494.6" width="2.2" height="7.9" fill="#852928"/><rect x="812.81" y="501.2" width="2.2" height="17.8" fill="#852928"/><rect x="828.83" y="480.9" width="2.2" height="30.6" fill="#852928"/><rect x="834.17" y="470.9" width="2.2" height="8.5" fill="#852928"/><rect x="839.51" y="455.4" width="2.2" height="13.4" fill="#852928"/><rect x="850.19" y="439.4" width="2.2" height="24.7" fill="#852928"/><rect x="860.87" y="402.9" width="2.2" height="32.4" fill="#852928"/><rect x="866.21" y="389.2" width="2.2" height="11.7" fill="#852928"/><rect x="882.23" y="365.8" width="2.2" height="26.0" fill="#852928"/><rect x="908.92" y="417.6" width="2.2" height="1.9" fill="#852928"/><rect x="914.26" y="384.4" width="2.2" height="30.7" fill="#852928"/><rect x="919.60" y="378.4" width="2.2" height="3.9" fill="#852928"/><rect x="924.94" y="354.2" width="2.2" height="21.6" fill="#852928"/><rect x="935.62" y="341.2" width="2.2" height="7.9" fill="#852928"/><rect x="940.96" y="332.2" width="2.2" height="7.6" fill="#852928"/><rect x="978.34" y="446.1" width="2.2" height="69.7" fill="#852928"/><rect x="989.02" y="454.8" width="2.2" height="1.9" fill="#852928"/><rect x="1005.03" y="469.1" width="2.2" height="24.4" fill="#852928"/><rect x="1015.71" y="458.6" width="2.2" height="13.9" fill="#852928"/><rect x="1037.07" y="458.8" width="2.2" height="14.4" fill="#852928"/><rect x="1047.75" y="454.6" width="2.2" height="11.9" fill="#852928"/><rect x="1053.09" y="450.6" width="2.2" height="2.2" fill="#852928"/><rect x="1069.11" y="453.2" width="2.2" height="30.4" fill="#852928"/><rect x="1074.45" y="441.6" width="2.2" height="9.1" fill="#852928"/><rect x="1079.79" y="437.7" width="2.2" height="1.5" fill="#852928"/><rect x="1085.13" y="424.8" width="2.2" height="11.2" fill="#852928"/><rect x="1106.49" y="468.9" width="2.2" height="27.4" fill="#852928"/><rect x="1143.86" y="584.8" width="2.2" height="7.3" fill="#852928"/><rect x="1149.20" y="565.6" width="2.2" height="17.6" fill="#852928"/><rect x="1154.54" y="551.1" width="2.2" height="12.8" fill="#852928"/><rect x="1159.88" y="547.1" width="2.2" height="3.3" fill="#852928"/><rect x="1165.22" y="527.4" width="2.2" height="17.6" fill="#852928"/><rect x="1186.58" y="565.2" width="2.2" height="9.3" fill="#852928"/><rect x="1202.60" y="556.3" width="2.2" height="37.4" fill="#852928"/><rect x="1218.62" y="569.5" width="2.2" height="20.0" fill="#852928"/><rect x="1223.95" y="541.0" width="2.2" height="26.4" fill="#852928"/><rect x="1229.29" y="536.9" width="2.2" height="2.2" fill="#852928"/><rect x="1266.67" y="605.4" width="2.2" height="38.2" fill="#852928"/><rect x="1272.01" y="594.2" width="2.2" height="9.2" fill="#852928"/><rect x="1277.35" y="579.5" width="2.2" height="12.8" fill="#852928"/><rect x="1288.03" y="577.4" width="2.2" height="21.0" fill="#852928"/><rect x="1304.05" y="551.4" width="2.2" height="27.1" fill="#852928"/><rect x="1314.73" y="570.2" width="2.2" height="14.1" fill="#852928"/><rect x="1320.07" y="538.2" width="2.2" height="29.5" fill="#852928"/></g>
<path d="M344.8 148.9H400L372.4 211Z" fill="#fff"/>
<path d="M726 334.2H780.8L753.4 396.2Z" fill="#fff"/>
<path d="M995 350.1H1050.3L1022.6 412.8Z" fill="#fff"/>
<path d="M1312.7 441.1H1367.7L1340.2 502.8Z" fill="#fff"/>
<text x="1339.8" y="476" font-size="42" font-weight="bold" text-anchor="middle" fill="#000">?</text>
<text x="157.1" y="791.5" font-size="41" font-style="italic" fill="#fff" stroke="#fff" stroke-width="0.7" textLength="182.0" lengthAdjust="spacingAndGlyphs">Callaghan</text>
<text x="378.7" y="793.6" font-size="41" font-style="italic" fill="#fff" stroke="#fff" stroke-width="0.7" textLength="159.7" lengthAdjust="spacingAndGlyphs">Thatcher</text>
<text x="599.4" y="794.4" font-size="41" font-style="italic" fill="#fff" stroke="#fff" stroke-width="0.7" textLength="100.8" lengthAdjust="spacingAndGlyphs">Major</text>
<text x="793.0" y="794.9" font-size="41" font-style="italic" fill="#fff" stroke="#fff" stroke-width="0.7" textLength="79.6" lengthAdjust="spacingAndGlyphs">Blair</text>
<text x="980.9" y="793.4" font-size="41" font-style="italic" fill="#fff" stroke="#fff" stroke-width="0.7" textLength="165.9" lengthAdjust="spacingAndGlyphs">Cameron</text>
<text x="914.0" y="843" font-size="41" font-style="italic" fill="#fff" stroke="#fff" stroke-width="0.7" textLength="113.2" lengthAdjust="spacingAndGlyphs">Brown</text>
<text x="1126.6" y="839.7" font-size="41" font-style="italic" fill="#fff" stroke="#fff" stroke-width="0.7" textLength="74.6" lengthAdjust="spacingAndGlyphs">May</text>
<text x="1185.2" y="792.9" font-size="41" font-style="italic" fill="#fff" stroke="#fff" stroke-width="0.7" textLength="91.2" lengthAdjust="spacingAndGlyphs">Boris</text>
<text x="1301.0" y="794.1" font-size="41" font-style="italic" fill="#fff" stroke="#fff" stroke-width="0.7" textLength="142.2" lengthAdjust="spacingAndGlyphs">Starmer</text>
<text x="1232.0" y="840.6" font-size="41" font-style="italic" fill="#fff" stroke="#fff" stroke-width="0.7" textLength="112.0" lengthAdjust="spacingAndGlyphs">Sunak</text>
<text x="1216.0" y="210.2" font-size="41" font-style="italic" fill="#fff" stroke="#fff" stroke-width="0.7" textLength="98.8" lengthAdjust="spacingAndGlyphs">Truss</text>
<g stroke="#7a727c" fill="#07030b" stroke-width="1.5"><circle cx="1331.7" cy="875.7" r="14.6"/></g>
<path d="M1334.5 867 L1325.5 877.3 H1331 L1328.5 884.6 L1337.8 874 H1332.2 Z" fill="#7a727c"/>
<rect x="1895" y="3.2" width="2" height="933" fill="#8c888e"/>
<rect x="4.3" y="894" width="1996" height="2" fill="#8c888e"/>
<text x="1909.3" y="74.4" font-size="18.2" fill="#f0eef0" textLength="74.5" lengthAdjust="spacingAndGlyphs">3.40000</text>
<text x="1909.3" y="139.1" font-size="18.2" fill="#f0eef0" textLength="74.5" lengthAdjust="spacingAndGlyphs">3.00000</text>
<text x="1909.3" y="213.1" font-size="18.2" fill="#f0eef0" textLength="74.5" lengthAdjust="spacingAndGlyphs">2.60000</text>
<text x="1909.3" y="276.5" font-size="18.2" fill="#f0eef0" textLength="74.5" lengthAdjust="spacingAndGlyphs">2.30000</text>
<text x="1909.3" y="323.6" font-size="18.2" fill="#f0eef0" textLength="74.5" lengthAdjust="spacingAndGlyphs">2.10000</text>
<text x="1909.3" y="375.3" font-size="18.2" fill="#f0eef0" textLength="74.5" lengthAdjust="spacingAndGlyphs">1.90000</text>
<text x="1909.3" y="432.9" font-size="18.2" fill="#f0eef0" textLength="74.5" lengthAdjust="spacingAndGlyphs">1.70000</text>
<text x="1909.3" y="497.6" font-size="18.2" fill="#f0eef0" textLength="74.5" lengthAdjust="spacingAndGlyphs">1.50000</text>
<text x="1909.3" y="552.1" font-size="18.2" fill="#f0eef0" textLength="74.5" lengthAdjust="spacingAndGlyphs">1.35000</text>
<text x="1909.3" y="613.0" font-size="18.2" fill="#f0eef0" textLength="74.5" lengthAdjust="spacingAndGlyphs">1.20000</text>
<text x="1909.3" y="658.0" font-size="18.2" fill="#f0eef0" textLength="74.5" lengthAdjust="spacingAndGlyphs">1.10000</text>
<text x="1909.3" y="707.3" font-size="18.2" fill="#f0eef0" textLength="74.5" lengthAdjust="spacingAndGlyphs">1.00000</text>
<text x="1909.3" y="761.8" font-size="18.2" fill="#f0eef0" textLength="74.5" lengthAdjust="spacingAndGlyphs">0.90000</text>
<text x="1909.3" y="809.9" font-size="18.2" fill="#f0eef0" textLength="74.5" lengthAdjust="spacingAndGlyphs">0.82000</text>
<text x="1909.3" y="856.1" font-size="18.2" fill="#f0eef0" textLength="74.5" lengthAdjust="spacingAndGlyphs">0.75000</text>
<path d="M1897 328.8H1990a2.5 2.5 0 0 1 2.5 2.5V351.1a2.5 2.5 0 0 1 -2.5 2.5H1897Z" fill="#6e6468"/><text x="1909.3" y="347.5" font-size="18.2" fill="#fff" textLength="74.5" lengthAdjust="spacingAndGlyphs">2.00490</text>
<path d="M1897 516.1H1990a2.5 2.5 0 0 1 2.5 2.5V538.4a2.5 2.5 0 0 1 -2.5 2.5H1897Z" fill="#6e6468"/><text x="1909.3" y="534.8" font-size="18.2" fill="#fff" textLength="74.5" lengthAdjust="spacingAndGlyphs">1.39580</text>
<path d="M1897 665.2H1990a2.5 2.5 0 0 1 2.5 2.5V687.5a2.5 2.5 0 0 1 -2.5 2.5H1897Z" fill="#6e6468"/><text x="1909.3" y="683.9" font-size="18.2" fill="#fff" textLength="74.5" lengthAdjust="spacingAndGlyphs">1.04630</text>
<path d="M1897 547.2H1990a2.5 2.5 0 0 1 2.5 2.5V569.5a2.5 2.5 0 0 1 -2.5 2.5H1897Z" fill="#8b8387"/><text x="1909.3" y="565.9" font-size="18.2" fill="#fff" textLength="74.5" lengthAdjust="spacingAndGlyphs">1.31440</text>
<rect x="1901.4" y="9.6" width="92.5" height="38" rx="5.5" fill="#000" stroke="#4a474d" stroke-width="1.2"/>
<text x="1907.3" y="35.2" font-size="17.9" fill="#f0eef0" textLength="37.5" lengthAdjust="spacingAndGlyphs">USD</text>
<path d="M1978.6 27 L1982.7 30.8 L1986.8 27" stroke="#f0eef0" stroke-width="1.8" fill="none"/>
<text x="288.2" y="922.4" font-size="17.4" font-weight="bold" fill="#f0eef0" textLength="48.2" lengthAdjust="spacingAndGlyphs">1978</text>
<text x="373.6" y="922.4" font-size="17.4" font-weight="bold" fill="#f0eef0" textLength="48.2" lengthAdjust="spacingAndGlyphs">1982</text>
<text x="459.0" y="922.4" font-size="17.4" font-weight="bold" fill="#f0eef0" textLength="48.2" lengthAdjust="spacingAndGlyphs">1986</text>
<text x="544.4" y="922.4" font-size="17.4" font-weight="bold" fill="#f0eef0" textLength="48.2" lengthAdjust="spacingAndGlyphs">1990</text>
<text x="629.8" y="922.4" font-size="17.4" font-weight="bold" fill="#f0eef0" textLength="48.2" lengthAdjust="spacingAndGlyphs">1994</text>
<text x="715.3" y="922.4" font-size="17.4" font-weight="bold" fill="#f0eef0" textLength="48.2" lengthAdjust="spacingAndGlyphs">1998</text>
<text x="800.7" y="922.4" font-size="17.4" font-weight="bold" fill="#f0eef0" textLength="48.2" lengthAdjust="spacingAndGlyphs">2002</text>
<text x="886.1" y="922.4" font-size="17.4" font-weight="bold" fill="#f0eef0" textLength="48.2" lengthAdjust="spacingAndGlyphs">2006</text>
<text x="971.5" y="922.4" font-size="17.4" font-weight="bold" fill="#f0eef0" textLength="48.2" lengthAdjust="spacingAndGlyphs">2010</text>
<text x="1056.9" y="922.4" font-size="17.4" font-weight="bold" fill="#f0eef0" textLength="48.2" lengthAdjust="spacingAndGlyphs">2014</text>
<text x="1142.3" y="922.4" font-size="17.4" font-weight="bold" fill="#f0eef0" textLength="48.2" lengthAdjust="spacingAndGlyphs">2018</text>
<text x="1227.7" y="922.4" font-size="17.4" font-weight="bold" fill="#f0eef0" textLength="48.2" lengthAdjust="spacingAndGlyphs">2022</text>
<text x="1313.1" y="922.4" font-size="17.4" font-weight="bold" fill="#f0eef0" textLength="48.2" lengthAdjust="spacingAndGlyphs">2026</text>
<text x="1398.6" y="922.4" font-size="17.4" font-weight="bold" fill="#f0eef0" textLength="48.2" lengthAdjust="spacingAndGlyphs">2030</text>
<text x="1484.0" y="922.4" font-size="17.4" font-weight="bold" fill="#f0eef0" textLength="48.2" lengthAdjust="spacingAndGlyphs">2034</text>
<text x="1569.4" y="922.4" font-size="17.4" font-weight="bold" fill="#f0eef0" textLength="48.2" lengthAdjust="spacingAndGlyphs">2038</text>
<text x="1654.8" y="922.4" font-size="17.4" font-weight="bold" fill="#f0eef0" textLength="48.2" lengthAdjust="spacingAndGlyphs">2042</text>
<text x="1740.2" y="922.4" font-size="17.4" font-weight="bold" fill="#f0eef0" textLength="48.2" lengthAdjust="spacingAndGlyphs">2046</text>
<text x="1825.6" y="922.4" font-size="17.4" font-weight="bold" fill="#f0eef0" textLength="48.2" lengthAdjust="spacingAndGlyphs">2050</text>
<polygon points="1959.3,915.8 1953.9,925.2 1943.1,925.2 1937.7,915.8 1943.1,906.4 1953.9,906.4" fill="none" stroke="#f0eef0" stroke-width="1.5"/><circle cx="1948.5" cy="915.8" r="3.6" fill="none" stroke="#f0eef0" stroke-width="1.5"/>
<text x="25.8" y="974" font-size="21.5" fill="#f0eef0" textLength="27.2" lengthAdjust="spacingAndGlyphs">1D</text>
<text x="71.0" y="974" font-size="21.5" fill="#f0eef0" textLength="28.8" lengthAdjust="spacingAndGlyphs">5D</text>
<text x="118.8" y="974" font-size="21.5" fill="#f0eef0" textLength="31.2" lengthAdjust="spacingAndGlyphs">1M</text>
<text x="167.2" y="974" font-size="21.5" fill="#f0eef0" textLength="32.0" lengthAdjust="spacingAndGlyphs">3M</text>
<text x="216.5" y="974" font-size="21.5" fill="#f0eef0" textLength="31.7" lengthAdjust="spacingAndGlyphs">6M</text>
<text x="265.5" y="974" font-size="21.5" fill="#f0eef0" textLength="41.8" lengthAdjust="spacingAndGlyphs">YTD</text>
<text x="325.8" y="974" font-size="21.5" fill="#f0eef0" textLength="25.2" lengthAdjust="spacingAndGlyphs">1Y</text>
<text x="370" y="974" font-size="21.5" fill="#f0eef0" textLength="27.2" lengthAdjust="spacingAndGlyphs">5Y</text>
<text x="415" y="974" font-size="21.5" fill="#f0eef0" textLength="23.8" lengthAdjust="spacingAndGlyphs">All</text>
<rect x="453.8" y="949.3" width="1.3" height="32.9" fill="#4c4850"/>
<g stroke="#f0eef0" stroke-width="1.6" fill="none" stroke-linecap="round" stroke-linejoin="round"><path d="M476.9 964.1V957.8a3 3 0 0 1 3 -3H499a3 3 0 0 1 3 3V973.9a3 3 0 0 1 -3 3H489.9"/><path d="M476.9 960.6H502"/><path d="M484.2 951.2V956.6"/><path d="M494.7 951.2V956.6"/><path d="M474.8 972.5H485.8M480.8 967.5L486.2 972.5L480.8 977.6"/></g>
<text x="1845.5" y="973.5" font-size="21.5" fill="#f0eef0" textLength="89.5" lengthAdjust="spacingAndGlyphs">00:57:01</text>
<text x="1942.3" y="973.5" font-size="21.5" fill="#f0eef0" textLength="42.9" lengthAdjust="spacingAndGlyphs">UTC</text>
<g fill="#fff" stroke="#000" stroke-width="3" paint-order="stroke" stroke-linejoin="round"><path d="M22.4 851.4H40.6V872.5H30.8V860.2H22.4Z"/><circle cx="47.7" cy="855.5" r="4.2"/><path d="M54.9 851.4H66.9L59.4 872.5H47.7Z"/><text x="77.3" y="872.5" font-size="30.5" font-weight="bold" textLength="181.3" lengthAdjust="spacingAndGlyphs">TradingView</text></g>
<circle cx="36.4" cy="22.3" r="8.8" fill="#e9e6ea"/>
<clipPath id="us"><circle cx="36.4" cy="22.3" r="8.8"/></clipPath>
<g clip-path="url(#us)"><rect x="27" y="13" width="10.5" height="10" fill="#8d8a97"/><rect x="37.5" y="15.2" width="9" height="1.3" fill="#a89a9c"/><rect x="37.5" y="17.8" width="9" height="1.3" fill="#a89a9c"/><rect x="37.5" y="20.4" width="9" height="1.3" fill="#a89a9c"/><rect x="27" y="23" width="20" height="1.3" fill="#a89a9c"/><rect x="27" y="25.6" width="20" height="1.3" fill="#a89a9c"/><rect x="27" y="28.2" width="20" height="1.3" fill="#a89a9c"/><rect x="27" y="30.6" width="20" height="1.3" fill="#a89a9c"/><circle cx="30" cy="15.5" r="0.7" fill="#fff"/><circle cx="30" cy="18.5" r="0.7" fill="#fff"/><circle cx="30" cy="21.5" r="0.7" fill="#fff"/><circle cx="33" cy="15.5" r="0.7" fill="#fff"/><circle cx="33" cy="18.5" r="0.7" fill="#fff"/><circle cx="33" cy="21.5" r="0.7" fill="#fff"/><circle cx="36" cy="15.5" r="0.7" fill="#fff"/><circle cx="36" cy="18.5" r="0.7" fill="#fff"/><circle cx="36" cy="21.5" r="0.7" fill="#fff"/></g>
<circle cx="26.9" cy="31.6" r="10.8" fill="#07030b"/>
<clipPath id="uk"><circle cx="26.9" cy="31.6" r="9.1"/></clipPath>
<g clip-path="url(#uk)"><rect x="17" y="22" width="20" height="20" fill="#4d4a59"/><path d="M17 22L37 41.5M37 22L17 41.5" stroke="#f3f1f4" stroke-width="3.6"/><path d="M17 22L37 41.5M37 22L17 41.5" stroke="#a2959a" stroke-width="1"/><path d="M26.9 22V42M17 31.6H37" stroke="#f3f1f4" stroke-width="5.4"/><path d="M26.9 22V42M17 31.6H37" stroke="#a2959a" stroke-width="2"/></g>
<rect x="46" y="12.6" width="1170" height="31.6" fill="#07030b" fill-opacity="0.78"/>
<text x="50.8" y="35.7" font-size="23.3" fill="#f4f2f5" textLength="67.2" lengthAdjust="spacingAndGlyphs" >British</text>
<text x="122.8" y="35.7" font-size="23.3" fill="#f4f2f5" textLength="67.2" lengthAdjust="spacingAndGlyphs" >Pound</text>
<text x="209.3" y="35.7" font-size="23.3" fill="#f4f2f5" textLength="45.3" lengthAdjust="spacingAndGlyphs" >U.S.</text>
<text x="259.3" y="35.7" font-size="23.3" fill="#f4f2f5" textLength="61.5" lengthAdjust="spacingAndGlyphs" >Dollar</text>
<text x="340.2" y="35.7" font-size="23.3" fill="#f4f2f5" textLength="34.8" lengthAdjust="spacingAndGlyphs" >3M</text>
<text x="391.6" y="35.7" font-size="23.3" fill="#f4f2f5" textLength="134.6" lengthAdjust="spacingAndGlyphs" >Pepperstone</text>
<path d="M197.4 39.6L205 18.4" stroke="#f4f2f5" stroke-width="1.9"/><circle cx="331.6" cy="28.3" r="1.5" fill="#f4f2f5"/><circle cx="385.1" cy="28.3" r="1.5" fill="#f4f2f5"/>
<rect x="538.8" y="13.8" width="60" height="26.7" rx="13.35" fill="#fff" fill-opacity="0.09"/>
<rect x="547.8" y="24" width="15" height="6.6" rx="3.3" fill="#d2ced4"/>
<path d="M575.8 25.6C577.8 22.2 580.2 22.2 582.3 24.4S586.8 26.8 589 23.2M575.8 31.6C577.8 28.2 580.2 28.2 582.3 30.4S586.8 32.8 589 29.2" stroke="#6a6064" stroke-width="1.8" fill="none" stroke-linecap="round"/>
<text x="610.3" y="34.5" font-size="19.9" fill="#f4f2f5" textLength="14.3" lengthAdjust="spacingAndGlyphs" >O</text>
<text x="629.2" y="34.5" font-size="19.9" fill="#8e8286" textLength="78.3" lengthAdjust="spacingAndGlyphs" >1.34405</text>
<text x="716.5" y="34.5" font-size="19.9" fill="#f4f2f5" textLength="14.5" lengthAdjust="spacingAndGlyphs" >H</text>
<text x="733.5" y="34.5" font-size="19.9" fill="#8e8286" textLength="79.0" lengthAdjust="spacingAndGlyphs" >1.35273</text>
<text x="822.2" y="34.5" font-size="19.9" fill="#f4f2f5" textLength="10.3" lengthAdjust="spacingAndGlyphs" >L</text>
<text x="835" y="34.5" font-size="19.9" fill="#8e8286" textLength="79.5" lengthAdjust="spacingAndGlyphs" >1.30969</text>
<text x="924" y="34.5" font-size="19.9" fill="#f4f2f5" textLength="14.5" lengthAdjust="spacingAndGlyphs" >C</text>
<text x="941.5" y="34.5" font-size="19.9" fill="#8e8286" textLength="79.0" lengthAdjust="spacingAndGlyphs" >1.31440</text>
<text x="1029.8" y="34.5" font-size="19.9" fill="#8e8286" textLength="92.6" lengthAdjust="spacingAndGlyphs" >−0.02995</text>
<text x="1127.6" y="34.5" font-size="19.9" fill="#8e8286" textLength="84.8" lengthAdjust="spacingAndGlyphs" >(−2.23%)</text>
<rect x="16.5" y="51.3" width="109.2" height="50.5" rx="7" fill="#000" stroke="#7a6e70" stroke-width="1.3"/>
<rect x="174.3" y="51.3" width="109.5" height="50.5" rx="7" fill="#000" stroke="#6c6876" stroke-width="1.3"/>
<text x="33.5" y="72.5" font-size="17.7" fill="#8c7f81" textLength="66.0" lengthAdjust="spacingAndGlyphs" >1.3144</text>
<text x="100.2" y="69.3" font-size="14.5" fill="#8c7f81" textLength="8.4" lengthAdjust="spacingAndGlyphs" >0</text>
<text x="50.2" y="92.8" font-size="15.7" fill="#8c7f81" textLength="40.8" lengthAdjust="spacingAndGlyphs" >SELL</text>
<text x="191.5" y="72.5" font-size="17.7" fill="#7f7b89" textLength="66.0" lengthAdjust="spacingAndGlyphs" >1.3145</text>
<text x="258" y="69.3" font-size="14.5" fill="#7f7b89" textLength="8.5" lengthAdjust="spacingAndGlyphs" >2</text>
<text x="210" y="92.8" font-size="15.7" fill="#7f7b89" textLength="36.4" lengthAdjust="spacingAndGlyphs" >BUY</text>
<text x="138.2" y="81.7" font-size="14.8" fill="#f4f2f5" textLength="24.1" lengthAdjust="spacingAndGlyphs" >1.2</text>
<rect x="1560.3" y="47.8" width="265" height="58.2" rx="10" fill="#000" fill-opacity="0.4"/>
<rect x="1561.3" y="47.3" width="263" height="56.1" rx="9" fill="#151217"/>
<g fill="#56525a"><circle cx="1574.6" cy="68.3" r="1.6"/><circle cx="1574.6" cy="75.9" r="1.6"/><circle cx="1574.6" cy="83.3" r="1.6"/><circle cx="1583.6" cy="68.3" r="1.6"/><circle cx="1583.6" cy="75.9" r="1.6"/><circle cx="1583.6" cy="83.3" r="1.6"/></g>
<g stroke="#fff" stroke-width="1.5" fill="none"><rect x="1610" y="60.5" width="30.8" height="30.3"/><path d="M1620.1 60.5V90.8M1630.6 60.5V90.8M1610 70.4H1640.8M1610 80.6H1640.8"/><path d="M1609.8 91.4L1641.3 59.9M1609.8 91.4L1619.8 60.5M1609.8 91.4L1640.8 81.8M1620 60.5 Q1633.9 67.3 1640.8 81.8"/><circle cx="1609.8" cy="91.4" r="3.1" fill="#151217"/><circle cx="1641.3" cy="59.9" r="3.1" fill="#151217"/><path d="M1666 61.5H1699M1666 70.2H1694.5M1666 79.2H1699M1669.8 88.4H1699"/><circle cx="1697.9" cy="70.2" r="3.05" fill="#151217"/><circle cx="1666.4" cy="88.4" r="3.05" fill="#151217"/><path d="M1727.3 85.2Q1730 77 1732.4 73.2M1736.8 68.4Q1742 65 1748.8 63.6"/><circle cx="1726.2" cy="88.4" r="3.05"/><circle cx="1733.8" cy="70.4" r="3.05"/><circle cx="1752" cy="62.8" r="3.05"/><path d="M1796.8 60.8V73.2M1796.8 80V92.3"/><circle cx="1796.8" cy="76.6" r="3.05"/></g>
</svg>
</body></html>
